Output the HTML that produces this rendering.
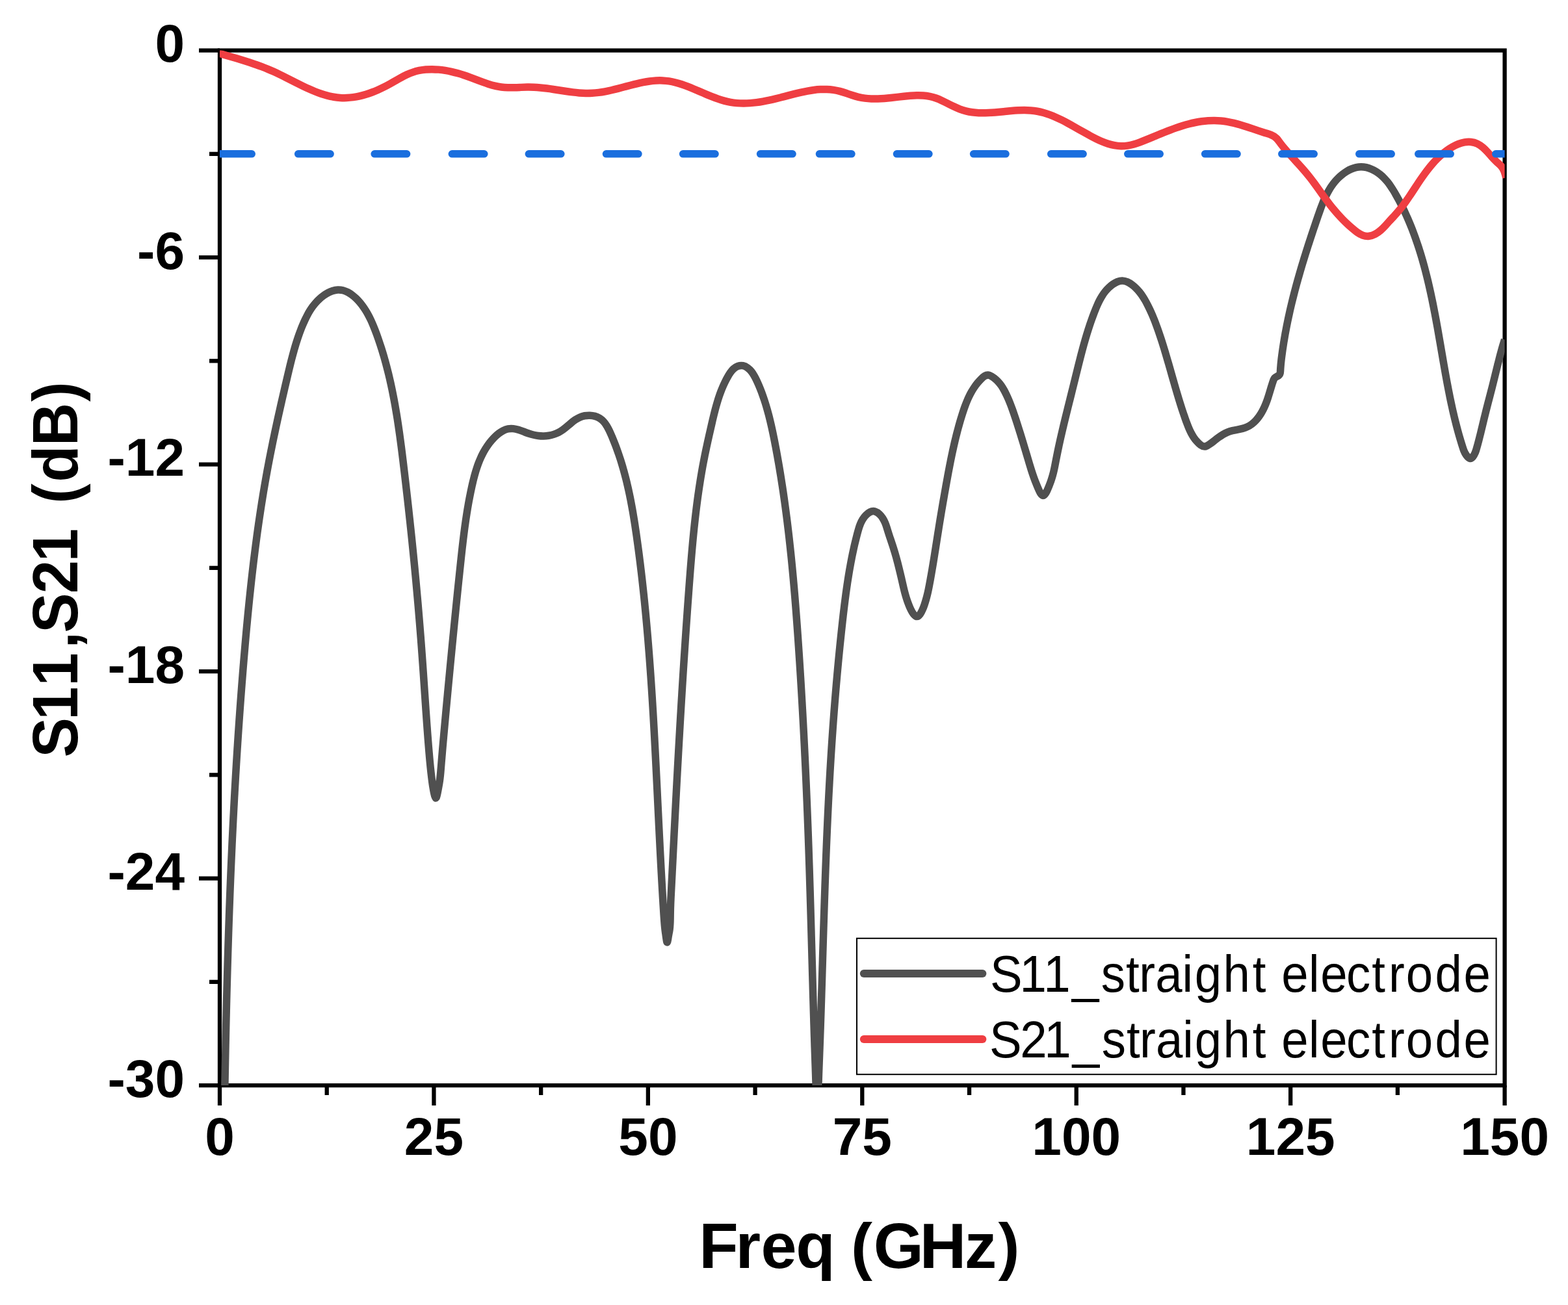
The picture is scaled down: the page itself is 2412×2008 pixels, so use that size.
<!DOCTYPE html>
<html><head><meta charset="utf-8"><title>S11 S21 straight electrode</title>
<style>
html,body{margin:0;padding:0;background:#fff;}
body{width:2412px;height:2008px;overflow:hidden;}
svg{display:block;}
.tl{font-family:"Liberation Sans",Arial,sans-serif;font-weight:bold;font-size:82px;fill:#000;}
.ti{font-family:"Liberation Sans",Arial,sans-serif;font-weight:bold;font-size:99.0px;fill:#000;font-kerning:none;}
.lg{font-family:"Liberation Sans",Arial,sans-serif;font-size:80.0px;fill:#000;font-kerning:none;}
</style></head>
<body>
<svg width="2412" height="2008" viewBox="0 0 2412 2008">
<rect width="2412" height="2008" fill="#fff"/>
<defs><clipPath id="pc"><rect x="338.0" y="77.6" width="1976.6" height="1592.5"/></clipPath></defs>
<g stroke="#000" stroke-width="6.3" fill="none" stroke-linecap="square">
<rect x="338.0" y="77.6" width="1976.6" height="1592.5" stroke-linejoin="miter"/>
</g>
<g stroke="#000" stroke-width="6.3" fill="none">
<line x1="306.0" y1="77.60" x2="338.0" y2="77.60"/><line x1="322.0" y1="236.85" x2="338.0" y2="236.85"/><line x1="306.0" y1="396.10" x2="338.0" y2="396.10"/><line x1="322.0" y1="555.35" x2="338.0" y2="555.35"/><line x1="306.0" y1="714.60" x2="338.0" y2="714.60"/><line x1="322.0" y1="873.85" x2="338.0" y2="873.85"/><line x1="306.0" y1="1033.10" x2="338.0" y2="1033.10"/><line x1="322.0" y1="1192.35" x2="338.0" y2="1192.35"/><line x1="306.0" y1="1351.60" x2="338.0" y2="1351.60"/><line x1="322.0" y1="1510.85" x2="338.0" y2="1510.85"/><line x1="306.0" y1="1670.10" x2="338.0" y2="1670.10"/><line x1="338.00" y1="1670.1" x2="338.00" y2="1701.0"/><line x1="502.72" y1="1670.1" x2="502.72" y2="1685.0"/><line x1="667.43" y1="1670.1" x2="667.43" y2="1701.0"/><line x1="832.15" y1="1670.1" x2="832.15" y2="1685.0"/><line x1="996.87" y1="1670.1" x2="996.87" y2="1701.0"/><line x1="1161.58" y1="1670.1" x2="1161.58" y2="1685.0"/><line x1="1326.30" y1="1670.1" x2="1326.30" y2="1701.0"/><line x1="1491.02" y1="1670.1" x2="1491.02" y2="1685.0"/><line x1="1655.73" y1="1670.1" x2="1655.73" y2="1701.0"/><line x1="1820.45" y1="1670.1" x2="1820.45" y2="1685.0"/><line x1="1985.17" y1="1670.1" x2="1985.17" y2="1701.0"/><line x1="2149.88" y1="1670.1" x2="2149.88" y2="1685.0"/><line x1="2314.60" y1="1670.1" x2="2314.60" y2="1701.0"/>
</g>
<g clip-path="url(#pc)" fill="none" stroke-linejoin="round">
<path d="M345.42 1699.99C345.46 1697.32 345.50 1694.65 345.55 1691.98C345.59 1689.31 345.63 1686.64 345.67 1683.97C345.72 1681.30 345.76 1678.63 345.81 1675.96C345.85 1673.29 345.90 1670.62 345.94 1667.95C345.99 1665.28 346.04 1662.61 346.08 1659.94C346.13 1657.27 346.18 1654.60 346.22 1651.93C346.27 1649.26 346.32 1646.59 346.37 1643.92C346.42 1641.25 346.47 1638.58 346.52 1635.91C346.57 1633.24 346.62 1630.57 346.67 1627.90C346.72 1625.23 346.77 1622.56 346.83 1619.89C346.88 1617.22 346.93 1614.54 346.99 1611.87C347.04 1609.20 347.10 1606.53 347.15 1603.86C347.21 1601.19 347.26 1598.52 347.32 1595.85C347.37 1593.18 347.43 1590.51 347.49 1587.84C347.55 1585.17 347.61 1582.50 347.66 1579.83C347.72 1577.16 347.78 1574.49 347.84 1571.82C347.90 1569.15 347.97 1566.48 348.03 1563.81C348.09 1561.14 348.15 1558.47 348.22 1555.80C348.28 1553.13 348.34 1550.46 348.41 1547.79C348.47 1545.12 348.54 1542.45 348.60 1539.78C348.67 1537.11 348.74 1534.44 348.81 1531.77C348.87 1529.10 348.94 1526.43 349.01 1523.76C349.08 1521.10 349.15 1518.43 349.22 1515.76C349.29 1513.09 349.36 1510.42 349.44 1507.75C349.51 1505.08 349.58 1502.41 349.66 1499.74C349.73 1497.07 349.81 1494.40 349.88 1491.73C349.96 1489.06 350.03 1486.39 350.11 1483.72C350.19 1481.05 350.27 1478.38 350.35 1475.71C350.42 1473.04 350.50 1470.37 350.59 1467.70C350.67 1465.03 350.75 1462.36 350.83 1459.69C350.91 1457.02 351.00 1454.36 351.08 1451.69C351.17 1449.02 351.25 1446.35 351.34 1443.68C351.42 1441.01 351.51 1438.34 351.60 1435.67C351.69 1433.00 351.78 1430.33 351.87 1427.66C351.95 1424.99 352.05 1422.32 352.14 1419.65C352.23 1416.99 352.32 1414.32 352.42 1411.65C352.51 1408.98 352.60 1406.31 352.70 1403.64C352.80 1400.97 352.89 1398.30 352.99 1395.63C353.09 1392.96 353.19 1390.30 353.29 1387.63C353.38 1384.96 353.49 1382.29 353.59 1379.62C353.69 1376.95 353.79 1374.28 353.89 1371.61C354.00 1368.95 354.10 1366.28 354.21 1363.61C354.31 1360.94 354.42 1358.27 354.53 1355.60C354.64 1352.93 354.75 1350.27 354.86 1347.60C354.97 1344.93 355.08 1342.26 355.19 1339.59C355.30 1336.92 355.41 1334.26 355.53 1331.59C355.64 1328.92 355.76 1326.25 355.88 1323.58C355.99 1320.91 356.11 1318.25 356.23 1315.58C356.35 1312.91 356.47 1310.24 356.59 1307.57C356.71 1304.91 356.83 1302.24 356.95 1299.57C357.08 1296.90 357.20 1294.23 357.33 1291.57C357.45 1288.90 357.58 1286.23 357.71 1283.56C357.84 1280.90 357.97 1278.23 358.10 1275.56C358.23 1272.89 358.36 1270.23 358.49 1267.56C358.62 1264.89 358.76 1262.22 358.89 1259.56C359.03 1256.89 359.16 1254.22 359.30 1251.56C359.44 1248.89 359.58 1246.22 359.72 1243.55C359.86 1240.89 360.00 1238.22 360.14 1235.55C360.29 1232.89 360.43 1230.22 360.57 1227.55C360.72 1224.89 360.87 1222.22 361.01 1219.55C361.16 1216.89 361.31 1214.22 361.46 1211.55C361.61 1208.89 361.76 1206.22 361.92 1203.55C362.07 1200.89 362.22 1198.22 362.38 1195.55C362.53 1192.89 362.69 1190.22 362.85 1187.56C363.01 1184.89 363.17 1182.22 363.33 1179.56C363.49 1176.89 363.65 1174.23 363.82 1171.56C363.98 1168.90 364.14 1166.23 364.31 1163.56C364.48 1160.90 364.64 1158.23 364.81 1155.57C364.98 1152.90 365.15 1150.24 365.33 1147.57C365.50 1144.91 365.67 1142.24 365.85 1139.58C366.02 1136.91 366.20 1134.25 366.37 1131.58C366.55 1128.92 366.73 1126.25 366.91 1123.59C367.09 1120.92 367.27 1118.26 367.46 1115.60C367.64 1112.93 367.83 1110.27 368.01 1107.60C368.20 1104.94 368.39 1102.27 368.58 1099.61C368.77 1096.95 368.96 1094.28 369.15 1091.62C369.34 1088.95 369.54 1086.29 369.73 1083.63C369.93 1080.96 370.12 1078.30 370.32 1075.64C370.52 1072.97 370.72 1070.31 370.92 1067.65C371.12 1064.98 371.33 1062.32 371.53 1059.66C371.74 1057.00 371.94 1054.33 372.15 1051.67C372.36 1049.01 372.57 1046.35 372.78 1043.68C372.99 1041.02 373.20 1038.36 373.41 1035.70C373.63 1033.03 373.84 1030.37 374.06 1027.71C374.28 1025.05 374.50 1022.39 374.72 1019.73C374.94 1017.06 375.16 1014.40 375.38 1011.74C375.61 1009.08 375.83 1006.42 376.06 1003.76C376.29 1001.10 376.52 998.44 376.75 995.77C376.98 993.11 377.21 990.45 377.44 987.79C377.68 985.13 377.91 982.47 378.15 979.81C378.39 977.15 378.63 974.49 378.87 971.83C379.11 969.17 379.36 966.51 379.60 963.85C379.85 961.19 380.10 958.54 380.35 955.88C380.60 953.22 380.86 950.56 381.11 947.90C381.37 945.24 381.63 942.58 381.89 939.93C382.15 937.27 382.41 934.61 382.68 931.95C382.94 929.30 383.21 926.64 383.48 923.98C383.75 921.32 384.03 918.67 384.31 916.01C384.58 913.36 384.86 910.70 385.15 908.04C385.43 905.39 385.72 902.73 386.01 900.08C386.29 897.42 386.59 894.77 386.88 892.11C387.18 889.46 387.48 886.81 387.78 884.15C388.08 881.50 388.39 878.85 388.70 876.19C389.01 873.54 389.32 870.89 389.63 868.24C389.95 865.58 390.27 862.93 390.59 860.28C390.92 857.63 391.24 854.98 391.57 852.33C391.90 849.68 392.24 847.03 392.58 844.38C392.92 841.73 393.26 839.08 393.60 836.43C393.95 833.79 394.30 831.14 394.66 828.49C395.01 825.84 395.37 823.20 395.73 820.55C396.09 817.91 396.46 815.26 396.83 812.62C397.20 809.97 397.58 807.33 397.96 804.68C398.34 802.04 398.73 799.40 399.11 796.76C399.50 794.11 399.90 791.47 400.30 788.83C400.69 786.19 401.10 783.55 401.51 780.91C401.91 778.27 402.33 775.63 402.74 772.99C403.16 770.36 403.58 767.72 404.01 765.08C404.44 762.45 404.87 759.81 405.31 757.18C405.75 754.54 406.19 751.91 406.64 749.28C407.08 746.64 407.54 744.01 408.00 741.38C408.45 738.75 408.92 736.12 409.39 733.49C409.86 730.86 410.33 728.23 410.81 725.61C411.29 722.98 411.78 720.35 412.27 717.73C412.76 715.10 413.26 712.48 413.76 709.85C414.26 707.23 414.77 704.61 415.28 701.99C415.79 699.37 416.31 696.75 416.83 694.13C417.36 691.51 417.88 688.89 418.42 686.27C418.95 683.66 419.48 681.04 420.02 678.42C420.56 675.81 421.11 673.19 421.66 670.58C422.21 667.97 422.76 665.35 423.32 662.74C423.87 660.13 424.43 657.52 425.00 654.91C425.56 652.30 426.13 649.69 426.70 647.08C427.27 644.47 427.85 641.86 428.42 639.25C429.00 636.65 429.58 634.04 430.17 631.43C430.75 628.83 431.34 626.22 431.92 623.62C432.51 621.01 433.10 618.41 433.70 615.80C434.29 613.20 434.89 610.60 435.49 607.99C436.08 605.39 436.68 602.79 437.29 600.19C437.89 597.59 438.49 594.98 439.10 592.38C439.71 589.78 440.31 587.18 440.92 584.58C441.53 581.98 442.14 579.38 442.75 576.78C443.36 574.18 443.98 571.58 444.60 568.98C445.22 566.39 445.85 563.79 446.49 561.20C447.12 558.60 447.77 556.01 448.43 553.43C449.10 550.84 449.77 548.25 450.46 545.68C451.16 543.09 451.87 540.52 452.60 537.95C453.33 535.38 454.09 532.82 454.86 530.27C455.64 527.71 456.45 525.16 457.28 522.63C458.11 520.09 458.97 517.56 459.87 515.05C460.76 512.53 461.69 510.02 462.65 507.53C463.61 505.04 464.61 502.56 465.65 500.10C466.69 497.64 467.76 495.20 468.88 492.77C470.00 490.35 471.17 487.95 472.41 485.58C473.64 483.22 474.95 480.89 476.34 478.60C477.72 476.33 479.20 474.10 480.78 471.93C482.34 469.80 484.01 467.71 485.80 465.69C487.55 463.73 489.42 461.82 491.42 459.99C493.38 458.20 495.46 456.50 497.63 454.93C499.81 453.35 502.08 451.90 504.40 450.66C506.81 449.37 509.27 448.29 511.75 447.49C514.36 446.65 516.99 446.11 519.59 445.96C522.28 445.80 524.94 446.08 527.53 446.74C530.08 447.39 532.56 448.39 534.98 449.66C537.29 450.88 539.54 452.35 541.70 453.99C543.81 455.59 545.83 457.36 547.76 459.23C549.69 461.10 551.52 463.06 553.25 465.07C555.00 467.10 556.65 469.20 558.21 471.35C559.79 473.52 561.27 475.74 562.68 478.00C564.09 480.27 565.42 482.59 566.68 484.94C567.95 487.29 569.14 489.68 570.28 492.10C571.42 494.51 572.50 496.95 573.55 499.41C574.58 501.87 575.58 504.35 576.54 506.84C577.51 509.33 578.44 511.84 579.36 514.34C580.27 516.86 581.17 519.37 582.04 521.89C582.92 524.42 583.77 526.95 584.61 529.48C585.45 532.02 586.27 534.56 587.07 537.11C587.87 539.66 588.65 542.21 589.41 544.77C590.18 547.33 590.92 549.89 591.65 552.46C592.38 555.03 593.09 557.61 593.79 560.18C594.48 562.76 595.16 565.35 595.82 567.93C596.48 570.52 597.12 573.11 597.75 575.71C598.38 578.30 598.99 580.90 599.59 583.51C600.19 586.11 600.77 588.72 601.34 591.33C601.91 593.93 602.47 596.55 603.01 599.16C603.55 601.78 604.08 604.39 604.60 607.02C605.11 609.64 605.62 612.26 606.11 614.88C606.60 617.51 607.08 620.14 607.55 622.77C608.02 625.39 608.48 628.02 608.92 630.66C609.37 633.29 609.81 635.93 610.24 638.56C610.67 641.20 611.09 643.84 611.50 646.47C611.91 649.11 612.31 651.75 612.70 654.40C613.09 657.04 613.48 659.68 613.86 662.32C614.24 664.97 614.61 667.61 614.97 670.26C615.34 672.90 615.70 675.55 616.05 678.20C616.41 680.84 616.75 683.49 617.10 686.14C617.44 688.79 617.78 691.44 618.11 694.09C618.45 696.74 618.78 699.39 619.10 702.04C619.43 704.69 619.75 707.34 620.08 709.99C620.40 712.64 620.72 715.29 621.03 717.95C621.35 720.60 621.67 723.25 621.98 725.90C622.30 728.55 622.61 731.21 622.92 733.86C623.23 736.51 623.54 739.16 623.85 741.82C624.16 744.47 624.47 747.12 624.77 749.78C625.08 752.43 625.38 755.08 625.68 757.74C625.99 760.39 626.29 763.04 626.59 765.70C626.89 768.35 627.18 771.01 627.48 773.66C627.78 776.31 628.07 778.97 628.37 781.62C628.66 784.28 628.95 786.93 629.24 789.59C629.53 792.24 629.82 794.90 630.11 797.55C630.40 800.21 630.68 802.86 630.96 805.52C631.25 808.17 631.53 810.83 631.81 813.48C632.09 816.14 632.37 818.80 632.65 821.45C632.93 824.11 633.20 826.77 633.48 829.42C633.75 832.08 634.02 834.74 634.29 837.39C634.57 840.05 634.84 842.71 635.10 845.36C635.37 848.02 635.64 850.68 635.90 853.34C636.17 855.99 636.43 858.65 636.69 861.31C636.95 863.97 637.21 866.63 637.47 869.28C637.72 871.94 637.98 874.60 638.23 877.26C638.49 879.92 638.74 882.58 638.99 885.24C639.24 887.89 639.49 890.55 639.74 893.21C639.98 895.87 640.23 898.53 640.47 901.19C640.72 903.85 640.96 906.51 641.20 909.17C641.44 911.83 641.68 914.49 641.91 917.15C642.15 919.81 642.38 922.47 642.62 925.13C642.85 927.79 643.08 930.45 643.31 933.11C643.54 935.77 643.77 938.44 643.99 941.10C644.22 943.76 644.44 946.42 644.66 949.08C644.89 951.74 645.11 954.40 645.32 957.07C645.54 959.73 645.76 962.39 645.97 965.05C646.19 967.71 646.40 970.38 646.61 973.04C646.82 975.70 647.03 978.36 647.24 981.03C647.44 983.69 647.65 986.35 647.85 989.01C648.05 991.68 648.25 994.34 648.45 997.00C648.65 999.67 648.85 1002.33 649.04 1004.99C649.24 1007.66 649.43 1010.32 649.62 1012.98C649.81 1015.65 650.00 1018.31 650.19 1020.98C650.38 1023.64 650.57 1026.30 650.75 1028.97C650.94 1031.63 651.12 1034.30 651.31 1036.96C651.49 1039.63 651.67 1042.29 651.85 1044.96C652.04 1047.62 652.22 1050.28 652.40 1052.95C652.58 1055.61 652.76 1058.28 652.94 1060.94C653.12 1063.61 653.30 1066.27 653.49 1068.94C653.67 1071.60 653.85 1074.26 654.03 1076.93C654.21 1079.59 654.40 1082.26 654.58 1084.92C654.76 1087.59 654.95 1090.25 655.13 1092.92C655.32 1095.58 655.50 1098.24 655.69 1100.91C655.88 1103.57 656.07 1106.24 656.26 1108.90C656.45 1111.56 656.64 1114.23 656.84 1116.89C657.03 1119.55 657.23 1122.22 657.43 1124.88C657.63 1127.54 657.83 1130.21 658.03 1132.87C658.24 1135.53 658.44 1138.19 658.65 1140.86C658.86 1143.52 659.07 1146.18 659.29 1148.85C659.50 1151.51 659.72 1154.17 659.95 1156.83C660.17 1159.50 660.40 1162.16 660.64 1164.81C660.87 1167.49 661.12 1170.15 661.37 1172.79C661.62 1175.47 661.88 1178.13 662.15 1180.77C662.43 1183.45 662.71 1186.11 663.00 1188.73C663.30 1191.42 663.61 1194.07 663.93 1196.69C664.26 1199.35 664.58 1201.92 664.97 1204.64C665.31 1207.06 665.70 1209.63 666.20 1212.55C666.60 1214.93 667.09 1217.67 667.65 1220.43C668.39 1224.13 669.26 1227.54 670.12 1227.95C671.07 1228.39 672.02 1224.79 672.85 1220.77C673.42 1218.00 673.93 1215.24 674.37 1212.90C674.93 1209.94 675.39 1207.42 675.79 1205.01C676.23 1202.37 676.59 1199.82 676.91 1197.08C677.21 1194.51 677.48 1191.84 677.73 1189.11C677.97 1186.49 678.19 1183.81 678.40 1181.13C678.62 1178.47 678.83 1175.80 679.05 1173.14C679.26 1170.47 679.48 1167.81 679.70 1165.16C679.93 1162.49 680.15 1159.83 680.38 1157.17C680.60 1154.51 680.83 1151.85 681.06 1149.19C681.30 1146.53 681.53 1143.87 681.76 1141.21C682.00 1138.55 682.24 1135.89 682.48 1133.23C682.71 1130.57 682.95 1127.91 683.19 1125.25C683.44 1122.59 683.68 1119.93 683.92 1117.27C684.16 1114.61 684.41 1111.95 684.65 1109.29C684.89 1106.63 685.14 1103.97 685.38 1101.31C685.63 1098.65 685.87 1095.99 686.12 1093.33C686.37 1090.68 686.61 1088.02 686.86 1085.36C687.11 1082.70 687.35 1080.04 687.60 1077.38C687.85 1074.72 688.10 1072.06 688.35 1069.40C688.59 1066.74 688.84 1064.08 689.09 1061.42C689.34 1058.77 689.59 1056.11 689.84 1053.45C690.10 1050.79 690.35 1048.13 690.60 1045.47C690.85 1042.81 691.10 1040.15 691.36 1037.49C691.61 1034.84 691.86 1032.18 692.12 1029.52C692.37 1026.86 692.62 1024.20 692.88 1021.54C693.14 1018.88 693.39 1016.23 693.65 1013.57C693.90 1010.91 694.16 1008.25 694.42 1005.59C694.68 1002.93 694.93 1000.28 695.19 997.62C695.45 994.96 695.71 992.30 695.97 989.64C696.23 986.99 696.49 984.33 696.75 981.67C697.01 979.01 697.27 976.35 697.54 973.70C697.80 971.04 698.06 968.38 698.33 965.72C698.59 963.06 698.85 960.41 699.12 957.75C699.38 955.09 699.65 952.43 699.92 949.78C700.18 947.12 700.45 944.46 700.72 941.81C700.98 939.15 701.25 936.49 701.52 933.83C701.79 931.18 702.06 928.52 702.33 925.86C702.60 923.21 702.87 920.55 703.15 917.89C703.42 915.24 703.69 912.58 703.96 909.92C704.24 907.26 704.51 904.61 704.79 901.95C705.06 899.30 705.34 896.64 705.61 893.98C705.89 891.33 706.17 888.67 706.45 886.01C706.72 883.36 707.00 880.70 707.28 878.05C707.56 875.39 707.84 872.73 708.12 870.08C708.40 867.42 708.69 864.77 708.97 862.11C709.25 859.45 709.54 856.80 709.83 854.14C710.12 851.49 710.41 848.83 710.71 846.18C711.00 843.53 711.30 840.87 711.61 838.22C711.92 835.57 712.23 832.91 712.55 830.26C712.87 827.61 713.19 824.96 713.53 822.31C713.86 819.66 714.20 817.01 714.55 814.36C714.90 811.72 715.26 809.07 715.63 806.43C716.00 803.78 716.38 801.14 716.77 798.49C717.16 795.85 717.56 793.21 717.98 790.57C718.39 787.94 718.82 785.30 719.26 782.67C719.70 780.03 720.15 777.40 720.62 774.77C721.09 772.14 721.58 769.52 722.08 766.89C722.57 764.27 723.09 761.65 723.62 759.03C724.15 756.41 724.70 753.80 725.27 751.19C725.83 748.58 726.42 745.97 727.02 743.37C727.63 740.77 728.26 738.17 728.93 735.59C729.59 733.00 730.29 730.42 731.03 727.86C731.77 725.29 732.55 722.73 733.39 720.20C734.23 717.66 735.11 715.14 736.06 712.65C737.01 710.15 738.03 707.68 739.11 705.24C740.19 702.79 741.34 700.39 742.57 698.02C743.80 695.65 745.11 693.32 746.50 691.04C747.89 688.76 749.36 686.54 750.93 684.36C752.48 682.21 754.13 680.11 755.88 678.06C757.59 676.05 759.41 674.08 761.33 672.19C763.24 670.31 765.25 668.52 767.34 666.91C769.50 665.24 771.75 663.77 774.07 662.58C776.50 661.33 779.01 660.39 781.59 659.88C784.19 659.36 786.85 659.31 789.56 659.64C792.13 659.95 794.74 660.57 797.38 661.36C799.88 662.12 802.41 663.03 804.95 663.97C807.45 664.89 809.96 665.85 812.48 666.72C815.04 667.60 817.60 668.38 820.15 669.00C822.79 669.64 825.42 670.12 828.03 670.44C830.72 670.77 833.39 670.92 836.02 670.90C838.72 670.87 841.38 670.66 844.00 670.25C846.65 669.83 849.25 669.22 851.79 668.40C854.32 667.59 856.79 666.58 859.19 665.35C861.53 664.16 863.81 662.76 866.01 661.17C868.14 659.63 870.22 657.93 872.28 656.18C874.31 654.47 876.33 652.70 878.38 650.99C880.45 649.27 882.55 647.61 884.73 646.10C886.95 644.58 889.25 643.22 891.68 642.14C894.11 641.06 896.68 640.27 899.32 639.77C901.95 639.28 904.64 639.09 907.29 639.18C910.00 639.28 912.66 639.68 915.19 640.39C917.82 641.12 920.30 642.18 922.51 643.57C924.78 645.00 926.78 646.76 928.58 648.76C930.33 650.71 931.88 652.89 933.30 655.22C934.67 657.46 935.92 659.84 937.09 662.28C938.24 664.68 939.32 667.13 940.38 669.58C941.45 672.04 942.48 674.50 943.49 676.97C944.50 679.45 945.48 681.93 946.44 684.42C947.40 686.92 948.33 689.42 949.24 691.93C950.15 694.44 951.03 696.96 951.89 699.49C952.75 702.02 953.58 704.55 954.40 707.09C955.21 709.64 956.00 712.19 956.77 714.75C957.54 717.31 958.29 719.87 959.01 722.44C959.74 725.01 960.44 727.59 961.13 730.17C961.81 732.75 962.48 735.34 963.12 737.93C963.77 740.52 964.40 743.12 965.00 745.71C965.61 748.32 966.21 750.92 966.78 753.53C967.36 756.14 967.92 758.75 968.46 761.36C969.00 763.98 969.53 766.59 970.04 769.22C970.56 771.84 971.06 774.46 971.54 777.09C972.03 779.71 972.50 782.34 972.97 784.97C973.43 787.60 973.88 790.23 974.32 792.87C974.76 795.50 975.19 798.14 975.61 800.78C976.03 803.41 976.44 806.05 976.84 808.69C977.25 811.33 977.64 813.97 978.03 816.62C978.42 819.26 978.80 821.90 979.18 824.55C979.55 827.19 979.92 829.83 980.29 832.48C980.66 835.12 981.02 837.77 981.38 840.42C981.73 843.06 982.09 845.71 982.43 848.36C982.78 851.01 983.13 853.66 983.46 856.31C983.80 858.95 984.14 861.60 984.47 864.25C984.80 866.90 985.12 869.55 985.45 872.21C985.77 874.86 986.09 877.51 986.40 880.16C986.71 882.81 987.02 885.47 987.33 888.12C987.63 890.77 987.93 893.43 988.23 896.08C988.53 898.73 988.82 901.39 989.11 904.04C989.40 906.70 989.68 909.35 989.97 912.01C990.25 914.67 990.53 917.32 990.80 919.98C991.07 922.64 991.35 925.29 991.61 927.95C991.88 930.61 992.14 933.26 992.40 935.92C992.66 938.58 992.92 941.24 993.17 943.90C993.43 946.56 993.67 949.22 993.92 951.88C994.17 954.53 994.41 957.19 994.65 959.85C994.89 962.51 995.13 965.17 995.36 967.83C995.59 970.50 995.82 973.16 996.05 975.82C996.28 978.48 996.50 981.14 996.73 983.80C996.95 986.46 997.17 989.12 997.38 991.79C997.60 994.45 997.81 997.11 998.02 999.77C998.23 1002.43 998.44 1005.10 998.64 1007.76C998.85 1010.42 999.05 1013.09 999.25 1015.75C999.45 1018.41 999.65 1021.08 999.84 1023.74C1000.04 1026.40 1000.23 1029.07 1000.42 1031.73C1000.61 1034.40 1000.80 1037.06 1000.98 1039.72C1001.17 1042.39 1001.35 1045.05 1001.53 1047.72C1001.71 1050.38 1001.89 1053.05 1002.06 1055.71C1002.24 1058.38 1002.42 1061.04 1002.59 1063.71C1002.76 1066.37 1002.93 1069.04 1003.10 1071.70C1003.27 1074.37 1003.43 1077.03 1003.60 1079.70C1003.76 1082.36 1003.93 1085.03 1004.09 1087.70C1004.25 1090.36 1004.41 1093.03 1004.57 1095.69C1004.73 1098.36 1004.88 1101.03 1005.04 1103.69C1005.19 1106.36 1005.34 1109.02 1005.50 1111.69C1005.65 1114.36 1005.80 1117.02 1005.95 1119.69C1006.10 1122.36 1006.24 1125.02 1006.39 1127.69C1006.54 1130.36 1006.68 1133.02 1006.83 1135.69C1006.97 1138.36 1007.11 1141.02 1007.25 1143.69C1007.40 1146.36 1007.54 1149.02 1007.68 1151.69C1007.82 1154.36 1007.95 1157.03 1008.09 1159.69C1008.23 1162.36 1008.37 1165.03 1008.50 1167.69C1008.64 1170.36 1008.77 1173.03 1008.91 1175.70C1009.04 1178.36 1009.18 1181.03 1009.31 1183.70C1009.44 1186.37 1009.58 1189.03 1009.71 1191.70C1009.84 1194.37 1009.97 1197.04 1010.10 1199.70C1010.24 1202.37 1010.37 1205.04 1010.50 1207.71C1010.63 1210.37 1010.76 1213.04 1010.89 1215.71C1011.02 1218.38 1011.15 1221.04 1011.28 1223.71C1011.41 1226.38 1011.54 1229.05 1011.66 1231.71C1011.79 1234.38 1011.92 1237.05 1012.05 1239.72C1012.18 1242.38 1012.31 1245.05 1012.44 1247.72C1012.57 1250.39 1012.70 1253.05 1012.83 1255.72C1012.96 1258.39 1013.09 1261.06 1013.22 1263.72C1013.35 1266.39 1013.48 1269.06 1013.61 1271.73C1013.74 1274.39 1013.88 1277.06 1014.01 1279.73C1014.14 1282.40 1014.27 1285.06 1014.41 1287.73C1014.54 1290.40 1014.67 1293.07 1014.81 1295.73C1014.94 1298.40 1015.08 1301.07 1015.21 1303.73C1015.35 1306.40 1015.48 1309.07 1015.62 1311.74C1015.76 1314.40 1015.90 1317.07 1016.04 1319.74C1016.18 1322.40 1016.32 1325.07 1016.46 1327.74C1016.60 1330.41 1016.74 1333.07 1016.89 1335.74C1017.03 1338.41 1017.17 1341.07 1017.32 1343.74C1017.47 1346.41 1017.61 1349.07 1017.76 1351.74C1017.91 1354.41 1018.06 1357.07 1018.21 1359.74C1018.36 1362.41 1018.52 1365.07 1018.67 1367.74C1018.83 1370.40 1018.98 1373.07 1019.14 1375.74C1019.30 1378.40 1019.45 1381.07 1019.62 1383.73C1019.78 1386.40 1019.94 1389.07 1020.10 1391.73C1020.27 1394.40 1020.43 1397.06 1020.60 1399.73C1020.77 1402.39 1020.94 1405.06 1021.11 1407.72C1021.28 1410.40 1021.46 1413.07 1021.66 1415.72C1021.86 1418.41 1022.08 1421.08 1022.32 1423.70C1022.57 1426.42 1022.86 1429.08 1023.18 1431.67C1023.49 1434.19 1023.84 1436.57 1024.27 1439.60C1024.61 1441.91 1025.00 1445.02 1025.43 1447.54C1026.10 1451.46 1026.77 1450.15 1027.40 1445.81C1027.83 1442.83 1028.28 1440.06 1028.71 1437.91C1029.27 1435.07 1029.77 1432.72 1030.11 1430.02C1030.43 1427.48 1030.65 1424.80 1030.79 1422.04C1030.93 1419.43 1031.01 1416.75 1031.07 1414.03C1031.12 1411.38 1031.15 1408.69 1031.20 1406.02C1031.24 1403.33 1031.30 1400.66 1031.37 1398.01C1031.45 1395.32 1031.54 1392.66 1031.65 1390.01C1031.76 1387.32 1031.87 1384.66 1032.00 1382.00C1032.13 1379.33 1032.26 1376.66 1032.40 1374.00C1032.53 1371.33 1032.67 1368.67 1032.81 1366.00C1032.94 1363.33 1033.08 1360.66 1033.22 1358.00C1033.35 1355.33 1033.49 1352.66 1033.63 1349.99C1033.76 1347.33 1033.90 1344.66 1034.03 1341.99C1034.17 1339.33 1034.31 1336.66 1034.44 1333.99C1034.58 1331.32 1034.71 1328.66 1034.85 1325.99C1034.98 1323.32 1035.12 1320.65 1035.25 1317.99C1035.39 1315.32 1035.52 1312.65 1035.66 1309.98C1035.79 1307.32 1035.93 1304.65 1036.06 1301.98C1036.20 1299.32 1036.33 1296.65 1036.47 1293.98C1036.60 1291.31 1036.74 1288.65 1036.87 1285.98C1037.01 1283.31 1037.14 1280.65 1037.28 1277.98C1037.42 1275.31 1037.55 1272.64 1037.69 1269.98C1037.83 1267.31 1037.96 1264.64 1038.10 1261.97C1038.24 1259.31 1038.37 1256.64 1038.51 1253.97C1038.65 1251.31 1038.78 1248.64 1038.92 1245.97C1039.06 1243.30 1039.20 1240.64 1039.34 1237.97C1039.48 1235.30 1039.62 1232.64 1039.76 1229.97C1039.90 1227.30 1040.04 1224.63 1040.18 1221.97C1040.32 1219.30 1040.46 1216.63 1040.60 1213.97C1040.74 1211.30 1040.88 1208.63 1041.03 1205.97C1041.17 1203.30 1041.31 1200.63 1041.45 1197.97C1041.60 1195.30 1041.74 1192.63 1041.89 1189.96C1042.03 1187.30 1042.18 1184.63 1042.32 1181.96C1042.47 1179.30 1042.61 1176.63 1042.76 1173.96C1042.91 1171.30 1043.05 1168.63 1043.20 1165.96C1043.35 1163.30 1043.50 1160.63 1043.64 1157.96C1043.79 1155.30 1043.94 1152.63 1044.09 1149.97C1044.24 1147.30 1044.39 1144.63 1044.54 1141.97C1044.69 1139.30 1044.85 1136.63 1045.00 1133.97C1045.15 1131.30 1045.30 1128.63 1045.46 1125.97C1045.61 1123.30 1045.76 1120.63 1045.92 1117.97C1046.07 1115.30 1046.23 1112.64 1046.38 1109.97C1046.54 1107.30 1046.69 1104.64 1046.85 1101.97C1047.01 1099.31 1047.17 1096.64 1047.33 1093.97C1047.48 1091.31 1047.64 1088.64 1047.80 1085.98C1047.96 1083.31 1048.12 1080.64 1048.28 1077.98C1048.44 1075.31 1048.61 1072.65 1048.77 1069.98C1048.93 1067.31 1049.09 1064.65 1049.26 1061.98C1049.42 1059.32 1049.59 1056.65 1049.75 1053.99C1049.92 1051.32 1050.08 1048.66 1050.25 1045.99C1050.42 1043.32 1050.59 1040.66 1050.75 1037.99C1050.92 1035.33 1051.09 1032.66 1051.26 1030.00C1051.43 1027.33 1051.60 1024.67 1051.77 1022.00C1051.94 1019.34 1052.12 1016.67 1052.29 1014.01C1052.46 1011.34 1052.64 1008.68 1052.81 1006.01C1052.99 1003.35 1053.16 1000.68 1053.34 998.02C1053.51 995.35 1053.69 992.69 1053.87 990.02C1054.05 987.36 1054.23 984.69 1054.40 982.03C1054.58 979.36 1054.76 976.70 1054.95 974.03C1055.13 971.37 1055.31 968.71 1055.49 966.04C1055.68 963.38 1055.86 960.71 1056.04 958.05C1056.23 955.38 1056.42 952.72 1056.60 950.06C1056.79 947.39 1056.98 944.73 1057.16 942.06C1057.35 939.40 1057.54 936.73 1057.73 934.07C1057.92 931.41 1058.11 928.74 1058.31 926.08C1058.50 923.42 1058.69 920.75 1058.89 918.09C1059.08 915.42 1059.27 912.76 1059.47 910.10C1059.67 907.43 1059.86 904.77 1060.06 902.11C1060.26 899.44 1060.46 896.78 1060.66 894.12C1060.86 891.45 1061.06 888.79 1061.27 886.13C1061.47 883.47 1061.68 880.80 1061.88 878.14C1062.09 875.48 1062.30 872.82 1062.52 870.15C1062.73 867.49 1062.95 864.83 1063.17 862.17C1063.39 859.51 1063.61 856.84 1063.84 854.18C1064.06 851.52 1064.29 848.86 1064.53 846.20C1064.76 843.54 1065.00 840.88 1065.24 838.22C1065.49 835.56 1065.73 832.90 1065.99 830.24C1066.24 827.58 1066.50 824.93 1066.76 822.27C1067.02 819.61 1067.29 816.95 1067.56 814.30C1067.84 811.64 1068.12 808.98 1068.40 806.33C1068.69 803.67 1068.98 801.02 1069.28 798.36C1069.58 795.71 1069.89 793.06 1070.20 790.41C1070.51 787.75 1070.83 785.10 1071.16 782.45C1071.49 779.80 1071.82 777.15 1072.16 774.50C1072.51 771.85 1072.86 769.21 1073.22 766.56C1073.58 763.91 1073.94 761.27 1074.32 758.62C1074.70 755.98 1075.08 753.34 1075.48 750.70C1075.87 748.05 1076.28 745.41 1076.69 742.78C1077.10 740.14 1077.53 737.50 1077.96 734.87C1078.39 732.23 1078.84 729.60 1079.29 726.96C1079.74 724.33 1080.21 721.70 1080.68 719.07C1081.16 716.45 1081.65 713.82 1082.14 711.20C1082.64 708.57 1083.15 705.95 1083.67 703.33C1084.19 700.71 1084.72 698.10 1085.26 695.48C1085.81 692.86 1086.36 690.25 1086.92 687.64C1087.48 685.03 1088.04 682.42 1088.62 679.81C1089.19 677.20 1089.77 674.60 1090.36 671.99C1090.94 669.38 1091.53 666.78 1092.12 664.17C1092.71 661.57 1093.31 658.97 1093.91 656.36C1094.50 653.76 1095.10 651.16 1095.70 648.56C1096.31 645.95 1096.92 643.35 1097.54 640.76C1098.17 638.16 1098.81 635.57 1099.47 632.98C1100.13 630.39 1100.81 627.81 1101.53 625.24C1102.24 622.66 1102.98 620.09 1103.75 617.54C1104.53 614.98 1105.34 612.44 1106.20 609.91C1107.06 607.38 1107.96 604.86 1108.91 602.37C1109.86 599.87 1110.85 597.40 1111.91 594.94C1112.97 592.49 1114.08 590.07 1115.26 587.66C1116.43 585.27 1117.66 582.90 1118.97 580.57C1120.27 578.24 1121.61 575.93 1123.11 573.71C1124.59 571.51 1126.24 569.42 1128.28 567.61C1130.26 565.85 1132.59 564.35 1135.05 563.42C1137.62 562.46 1140.32 562.16 1142.92 562.71C1145.47 563.25 1147.92 564.50 1150.12 566.10C1152.32 567.71 1154.21 569.62 1155.84 571.67C1157.50 573.77 1158.92 576.02 1160.26 578.35C1161.58 580.65 1162.79 583.04 1163.94 585.46C1165.08 587.87 1166.16 590.32 1167.20 592.78C1168.25 595.24 1169.25 597.72 1170.22 600.20C1171.20 602.69 1172.13 605.19 1173.03 607.70C1173.94 610.22 1174.80 612.74 1175.64 615.28C1176.48 617.82 1177.29 620.36 1178.06 622.91C1178.84 625.47 1179.59 628.03 1180.32 630.60C1181.04 633.17 1181.74 635.75 1182.42 638.34C1183.09 640.92 1183.74 643.51 1184.38 646.10C1185.01 648.70 1185.62 651.30 1186.21 653.90C1186.81 656.51 1187.39 659.11 1187.95 661.72C1188.51 664.33 1189.06 666.95 1189.60 669.57C1190.13 672.18 1190.66 674.80 1191.17 677.42C1191.69 680.04 1192.20 682.66 1192.70 685.29C1193.20 687.91 1193.69 690.53 1194.18 693.16C1194.67 695.78 1195.15 698.41 1195.63 701.04C1196.10 703.67 1196.57 706.30 1197.03 708.93C1197.49 711.56 1197.95 714.19 1198.40 716.82C1198.84 719.46 1199.29 722.09 1199.72 724.72C1200.16 727.36 1200.59 729.99 1201.02 732.63C1201.44 735.27 1201.86 737.91 1202.27 740.55C1202.68 743.18 1203.09 745.82 1203.49 748.46C1203.89 751.10 1204.29 753.75 1204.68 756.39C1205.07 759.03 1205.45 761.67 1205.83 764.32C1206.21 766.96 1206.58 769.60 1206.95 772.25C1207.32 774.89 1207.68 777.54 1208.04 780.19C1208.39 782.83 1208.75 785.48 1209.09 788.13C1209.44 790.78 1209.78 793.43 1210.12 796.08C1210.46 798.72 1210.79 801.37 1211.12 804.03C1211.45 806.68 1211.77 809.33 1212.09 811.98C1212.41 814.63 1212.72 817.28 1213.03 819.94C1213.34 822.59 1213.64 825.24 1213.95 827.89C1214.25 830.55 1214.54 833.20 1214.83 835.86C1215.13 838.51 1215.41 841.17 1215.70 843.82C1215.98 846.48 1216.26 849.13 1216.54 851.79C1216.81 854.45 1217.09 857.10 1217.36 859.76C1217.62 862.42 1217.89 865.08 1218.15 867.73C1218.41 870.39 1218.67 873.05 1218.92 875.71C1219.18 878.37 1219.43 881.03 1219.67 883.69C1219.92 886.34 1220.16 889.00 1220.40 891.66C1220.65 894.32 1220.88 896.98 1221.12 899.64C1221.35 902.31 1221.58 904.97 1221.81 907.63C1222.04 910.29 1222.26 912.95 1222.49 915.61C1222.71 918.27 1222.93 920.93 1223.15 923.60C1223.36 926.26 1223.58 928.92 1223.79 931.58C1224.00 934.24 1224.21 936.91 1224.42 939.57C1224.63 942.23 1224.83 944.89 1225.03 947.56C1225.23 950.22 1225.43 952.88 1225.63 955.55C1225.83 958.21 1226.03 960.87 1226.22 963.54C1226.41 966.20 1226.61 968.87 1226.80 971.53C1226.99 974.19 1227.18 976.86 1227.36 979.52C1227.55 982.19 1227.73 984.85 1227.92 987.51C1228.10 990.18 1228.28 992.84 1228.46 995.51C1228.64 998.17 1228.82 1000.84 1229.00 1003.50C1229.18 1006.17 1229.35 1008.83 1229.53 1011.50C1229.70 1014.16 1229.88 1016.83 1230.05 1019.49C1230.22 1022.16 1230.39 1024.82 1230.56 1027.49C1230.73 1030.15 1230.90 1032.82 1231.07 1035.48C1231.24 1038.15 1231.40 1040.81 1231.57 1043.48C1231.73 1046.15 1231.89 1048.81 1232.06 1051.48C1232.22 1054.14 1232.38 1056.81 1232.54 1059.47C1232.70 1062.14 1232.86 1064.81 1233.01 1067.47C1233.17 1070.14 1233.33 1072.80 1233.48 1075.47C1233.64 1078.14 1233.79 1080.80 1233.94 1083.47C1234.09 1086.14 1234.24 1088.80 1234.39 1091.47C1234.54 1094.14 1234.69 1096.80 1234.84 1099.47C1234.98 1102.14 1235.13 1104.80 1235.28 1107.47C1235.42 1110.14 1235.56 1112.80 1235.71 1115.47C1235.85 1118.14 1235.99 1120.80 1236.13 1123.47C1236.27 1126.14 1236.41 1128.80 1236.55 1131.47C1236.68 1134.14 1236.82 1136.81 1236.95 1139.47C1237.09 1142.14 1237.22 1144.81 1237.36 1147.48C1237.49 1150.14 1237.62 1152.81 1237.75 1155.48C1237.88 1158.14 1238.01 1160.81 1238.14 1163.48C1238.27 1166.15 1238.40 1168.82 1238.52 1171.48C1238.65 1174.15 1238.77 1176.82 1238.90 1179.49C1239.02 1182.15 1239.15 1184.82 1239.27 1187.49C1239.39 1190.16 1239.51 1192.83 1239.63 1195.49C1239.75 1198.16 1239.87 1200.83 1239.99 1203.50C1240.10 1206.17 1240.22 1208.83 1240.33 1211.50C1240.45 1214.17 1240.56 1216.84 1240.68 1219.51C1240.79 1222.18 1240.90 1224.84 1241.01 1227.51C1241.13 1230.18 1241.24 1232.85 1241.35 1235.52C1241.45 1238.19 1241.56 1240.85 1241.67 1243.52C1241.78 1246.19 1241.88 1248.86 1241.99 1251.53C1242.09 1254.20 1242.20 1256.87 1242.30 1259.54C1242.41 1262.20 1242.51 1264.87 1242.61 1267.54C1242.71 1270.21 1242.81 1272.88 1242.91 1275.55C1243.01 1278.22 1243.11 1280.88 1243.21 1283.55C1243.30 1286.22 1243.40 1288.89 1243.50 1291.56C1243.59 1294.23 1243.69 1296.90 1243.78 1299.57C1243.88 1302.24 1243.97 1304.91 1244.06 1307.58C1244.15 1310.24 1244.24 1312.91 1244.33 1315.58C1244.43 1318.25 1244.52 1320.92 1244.60 1323.59C1244.69 1326.26 1244.78 1328.93 1244.87 1331.60C1244.96 1334.27 1245.04 1336.94 1245.13 1339.61C1245.21 1342.28 1245.30 1344.94 1245.38 1347.61C1245.47 1350.28 1245.55 1352.95 1245.63 1355.62C1245.72 1358.29 1245.80 1360.96 1245.88 1363.63C1245.96 1366.30 1246.04 1368.97 1246.13 1371.64C1246.21 1374.31 1246.29 1376.98 1246.37 1379.65C1246.45 1382.32 1246.52 1384.99 1246.60 1387.66C1246.68 1390.33 1246.76 1393.00 1246.84 1395.66C1246.92 1398.33 1246.99 1401.00 1247.07 1403.67C1247.15 1406.34 1247.23 1409.01 1247.30 1411.68C1247.38 1414.35 1247.46 1417.02 1247.53 1419.69C1247.61 1422.36 1247.68 1425.03 1247.76 1427.70C1247.83 1430.37 1247.91 1433.04 1247.98 1435.71C1248.06 1438.38 1248.13 1441.05 1248.21 1443.72C1248.28 1446.39 1248.36 1449.06 1248.43 1451.73C1248.51 1454.40 1248.58 1457.07 1248.66 1459.74C1248.73 1462.41 1248.80 1465.08 1248.88 1467.74C1248.95 1470.42 1249.03 1473.09 1249.10 1475.75C1249.18 1478.43 1249.25 1481.10 1249.33 1483.76C1249.40 1486.43 1249.47 1489.10 1249.55 1491.77C1249.62 1494.44 1249.70 1497.11 1249.77 1499.78C1249.85 1502.45 1249.92 1505.12 1250.00 1507.79C1250.08 1510.46 1250.15 1513.13 1250.23 1515.80C1250.30 1518.47 1250.38 1521.14 1250.46 1523.81C1250.53 1526.48 1250.61 1529.15 1250.69 1531.82C1250.76 1534.49 1250.84 1537.16 1250.92 1539.82C1251.00 1542.50 1251.08 1545.17 1251.16 1547.83C1251.24 1550.51 1251.31 1553.18 1251.39 1555.84C1251.47 1558.51 1251.56 1561.18 1251.64 1563.85C1251.72 1566.52 1251.80 1569.19 1251.88 1571.86C1251.96 1574.53 1252.05 1577.20 1252.13 1579.87C1252.22 1582.54 1252.30 1585.21 1252.38 1587.88C1252.47 1590.55 1252.56 1593.22 1252.64 1595.88C1252.73 1598.56 1252.82 1601.23 1252.91 1603.89C1252.99 1606.56 1253.08 1609.23 1253.17 1611.90C1253.26 1614.57 1253.35 1617.24 1253.45 1619.91C1253.54 1622.57 1253.63 1625.23 1253.72 1627.91C1253.82 1630.56 1253.91 1633.22 1254.00 1635.92C1254.09 1638.55 1254.19 1641.21 1254.28 1643.93C1254.37 1646.55 1254.45 1649.21 1254.54 1651.94C1254.63 1654.54 1254.71 1657.21 1254.80 1659.94C1254.88 1662.55 1254.96 1665.21 1255.05 1667.95C1255.12 1670.55 1255.20 1673.22 1255.28 1675.96C1255.35 1678.56 1255.43 1681.23 1255.50 1683.97C1255.57 1686.61 1255.64 1689.30 1255.71 1691.98C1255.78 1694.69 1255.86 1697.38 1255.93 1699.99C1256.01 1702.79 1256.08 1705.49 1256.16 1708.00C1256.25 1710.98 1256.34 1713.70 1256.43 1716.01C1256.65 1721.39 1256.86 1724.51 1257.07 1723.65C1257.24 1722.97 1257.41 1720.00 1257.58 1715.66C1257.67 1713.34 1257.76 1710.62 1257.85 1707.65C1257.93 1705.14 1258.00 1702.44 1258.08 1699.64C1258.16 1697.03 1258.23 1694.34 1258.30 1691.63C1258.38 1688.96 1258.45 1686.26 1258.52 1683.63C1258.60 1680.89 1258.68 1678.22 1258.75 1675.62C1258.84 1672.88 1258.92 1670.21 1259.00 1667.61C1259.09 1664.87 1259.18 1662.21 1259.26 1659.60C1259.36 1656.87 1259.45 1654.20 1259.54 1651.59C1259.64 1648.87 1259.73 1646.21 1259.83 1643.59C1259.93 1640.87 1260.03 1638.21 1260.13 1635.58C1260.23 1632.88 1260.33 1630.22 1260.43 1627.57C1260.53 1624.89 1260.63 1622.23 1260.73 1619.57C1260.83 1616.90 1260.93 1614.23 1261.03 1611.56C1261.13 1608.89 1261.23 1606.23 1261.32 1603.55C1261.42 1600.89 1261.52 1598.22 1261.61 1595.55C1261.70 1592.88 1261.80 1590.21 1261.89 1587.54C1261.98 1584.87 1262.07 1582.20 1262.17 1579.53C1262.26 1576.87 1262.35 1574.20 1262.44 1571.52C1262.53 1568.86 1262.61 1566.19 1262.70 1563.52C1262.79 1560.85 1262.88 1558.18 1262.97 1555.51C1263.05 1552.84 1263.14 1550.17 1263.22 1547.50C1263.31 1544.83 1263.40 1542.16 1263.48 1539.49C1263.57 1536.83 1263.65 1534.16 1263.73 1531.48C1263.82 1528.82 1263.90 1526.15 1263.98 1523.48C1264.07 1520.81 1264.15 1518.14 1264.23 1515.47C1264.32 1512.80 1264.40 1510.13 1264.48 1507.46C1264.56 1504.79 1264.64 1502.12 1264.73 1499.45C1264.81 1496.78 1264.89 1494.11 1264.97 1491.44C1265.05 1488.78 1265.13 1486.11 1265.21 1483.44C1265.30 1480.77 1265.38 1478.10 1265.46 1475.43C1265.54 1472.76 1265.62 1470.09 1265.70 1467.42C1265.78 1464.75 1265.87 1462.08 1265.95 1459.41C1266.03 1456.74 1266.11 1454.07 1266.19 1451.40C1266.27 1448.73 1266.36 1446.06 1266.44 1443.39C1266.52 1440.73 1266.60 1438.06 1266.69 1435.38C1266.77 1432.72 1266.85 1430.05 1266.93 1427.38C1267.02 1424.71 1267.10 1422.04 1267.19 1419.37C1267.27 1416.70 1267.35 1414.03 1267.44 1411.36C1267.52 1408.69 1267.61 1406.02 1267.70 1403.35C1267.78 1400.68 1267.87 1398.01 1267.96 1395.34C1268.04 1392.68 1268.13 1390.01 1268.22 1387.34C1268.31 1384.67 1268.40 1382.00 1268.49 1379.33C1268.58 1376.66 1268.67 1373.99 1268.76 1371.32C1268.85 1368.65 1268.94 1365.98 1269.03 1363.31C1269.12 1360.65 1269.22 1357.98 1269.31 1355.31C1269.41 1352.64 1269.50 1349.97 1269.60 1347.30C1269.69 1344.63 1269.79 1341.96 1269.89 1339.29C1269.99 1336.62 1270.08 1333.96 1270.18 1331.29C1270.28 1328.62 1270.38 1325.95 1270.49 1323.28C1270.59 1320.61 1270.69 1317.94 1270.79 1315.27C1270.90 1312.61 1271.00 1309.94 1271.11 1307.27C1271.22 1304.60 1271.32 1301.93 1271.43 1299.26C1271.54 1296.59 1271.65 1293.93 1271.76 1291.26C1271.87 1288.59 1271.99 1285.92 1272.10 1283.25C1272.21 1280.58 1272.33 1277.92 1272.45 1275.25C1272.56 1272.58 1272.68 1269.91 1272.80 1267.24C1272.92 1264.57 1273.04 1261.91 1273.16 1259.24C1273.28 1256.57 1273.41 1253.90 1273.53 1251.24C1273.66 1248.57 1273.79 1245.90 1273.92 1243.23C1274.05 1240.56 1274.18 1237.90 1274.31 1235.23C1274.44 1232.56 1274.57 1229.89 1274.71 1227.23C1274.85 1224.56 1274.98 1221.89 1275.12 1219.23C1275.26 1216.56 1275.40 1213.89 1275.55 1211.23C1275.69 1208.56 1275.83 1205.89 1275.98 1203.23C1276.13 1200.56 1276.27 1197.89 1276.42 1195.23C1276.58 1192.56 1276.73 1189.89 1276.88 1187.23C1277.04 1184.56 1277.19 1181.89 1277.35 1179.23C1277.51 1176.56 1277.67 1173.90 1277.83 1171.23C1277.99 1168.56 1278.16 1165.90 1278.32 1163.23C1278.49 1160.57 1278.66 1157.90 1278.83 1155.24C1279.00 1152.57 1279.17 1149.91 1279.35 1147.24C1279.52 1144.58 1279.70 1141.91 1279.88 1139.25C1280.05 1136.58 1280.24 1133.92 1280.42 1131.25C1280.60 1128.59 1280.79 1125.93 1280.98 1123.26C1281.16 1120.60 1281.35 1117.93 1281.55 1115.27C1281.74 1112.61 1281.93 1109.94 1282.13 1107.28C1282.33 1104.62 1282.53 1101.95 1282.73 1099.29C1282.93 1096.63 1283.13 1093.96 1283.34 1091.30C1283.55 1088.64 1283.75 1085.97 1283.96 1083.31C1284.18 1080.65 1284.39 1077.99 1284.61 1075.33C1284.82 1072.66 1285.04 1070.00 1285.26 1067.34C1285.48 1064.68 1285.70 1062.02 1285.93 1059.36C1286.16 1056.70 1286.38 1054.03 1286.62 1051.37C1286.85 1048.71 1287.08 1046.05 1287.32 1043.39C1287.55 1040.73 1287.79 1038.07 1288.03 1035.41C1288.27 1032.75 1288.52 1030.09 1288.76 1027.43C1289.01 1024.77 1289.26 1022.12 1289.51 1019.46C1289.76 1016.80 1290.02 1014.14 1290.27 1011.48C1290.53 1008.82 1290.79 1006.17 1291.05 1003.51C1291.31 1000.85 1291.58 998.19 1291.85 995.53C1292.12 992.88 1292.39 990.22 1292.66 987.56C1292.93 984.91 1293.21 982.25 1293.49 979.59C1293.77 976.94 1294.05 974.28 1294.33 971.63C1294.62 968.97 1294.91 966.32 1295.20 963.66C1295.49 961.01 1295.78 958.35 1296.07 955.70C1296.37 953.04 1296.67 950.39 1296.97 947.74C1297.28 945.08 1297.59 942.43 1297.90 939.78C1298.21 937.13 1298.53 934.47 1298.86 931.82C1299.18 929.17 1299.51 926.52 1299.85 923.87C1300.19 921.22 1300.53 918.57 1300.89 915.93C1301.24 913.28 1301.60 910.63 1301.97 907.99C1302.34 905.34 1302.72 902.70 1303.11 900.06C1303.50 897.42 1303.90 894.77 1304.31 892.14C1304.71 889.50 1305.14 886.86 1305.57 884.22C1306.00 881.59 1306.44 878.95 1306.90 876.32C1307.36 873.69 1307.83 871.06 1308.31 868.44C1308.79 865.81 1309.29 863.18 1309.80 860.56C1310.31 857.94 1310.84 855.32 1311.38 852.71C1311.92 850.09 1312.48 847.48 1313.05 844.87C1313.62 842.26 1314.21 839.66 1314.82 837.06C1315.43 834.46 1316.06 831.86 1316.70 829.27C1317.34 826.68 1318.01 824.09 1318.69 821.51C1319.37 818.92 1320.06 816.34 1320.82 813.79C1321.58 811.22 1322.42 808.68 1323.43 806.21C1324.43 803.75 1325.60 801.35 1327.03 799.07C1328.41 796.85 1330.02 794.74 1331.96 792.77C1333.81 790.88 1335.97 789.07 1338.26 787.88C1340.79 786.57 1343.46 786.18 1346.00 786.95C1348.42 787.68 1350.74 789.27 1352.75 791.14C1354.76 793.00 1356.43 795.08 1357.85 797.29C1359.30 799.54 1360.48 801.93 1361.51 804.40C1362.53 806.86 1363.40 809.40 1364.20 811.95C1365.01 814.51 1365.76 817.08 1366.55 819.61C1367.35 822.18 1368.19 824.71 1369.03 827.23C1369.88 829.76 1370.75 832.28 1371.61 834.81C1372.46 837.33 1373.30 839.86 1374.11 842.42C1374.92 844.95 1375.70 847.51 1376.46 850.09C1377.21 852.64 1377.94 855.21 1378.65 857.79C1379.36 860.36 1380.05 862.95 1380.73 865.53C1381.40 868.12 1382.06 870.71 1382.70 873.29C1383.35 875.90 1383.98 878.50 1384.60 881.08C1385.23 883.70 1385.84 886.30 1386.44 888.88C1387.05 891.51 1387.65 894.12 1388.24 896.68C1388.84 899.33 1389.42 901.91 1390.02 904.50C1390.61 907.03 1391.23 909.59 1391.94 912.27C1392.59 914.71 1393.31 917.25 1394.17 919.97C1394.92 922.36 1395.78 924.94 1396.74 927.56C1397.66 930.06 1398.65 932.60 1399.71 935.00C1400.86 937.61 1402.08 940.06 1403.34 942.13C1405.07 944.98 1406.86 947.12 1408.64 948.02C1410.92 949.19 1413.18 947.97 1415.29 945.10C1416.63 943.28 1417.92 940.84 1419.12 938.08C1420.14 935.75 1421.10 933.20 1421.98 930.60C1422.85 928.04 1423.65 925.43 1424.36 922.95C1425.15 920.22 1425.82 917.65 1426.42 915.21C1427.09 912.49 1427.66 909.91 1428.18 907.39C1428.74 904.73 1429.23 902.14 1429.72 899.53C1430.22 896.92 1430.70 894.29 1431.18 891.65C1431.65 889.03 1432.12 886.40 1432.58 883.76C1433.04 881.14 1433.49 878.51 1433.94 875.86C1434.38 873.24 1434.82 870.61 1435.26 867.96C1435.69 865.33 1436.12 862.70 1436.55 860.06C1436.98 857.42 1437.40 854.79 1437.82 852.14C1438.24 849.51 1438.66 846.87 1439.08 844.23C1439.49 841.60 1439.91 838.96 1440.32 836.32C1440.74 833.68 1441.15 831.04 1441.57 828.40C1441.98 825.76 1442.40 823.12 1442.81 820.49C1443.23 817.85 1443.65 815.21 1444.07 812.57C1444.49 809.93 1444.91 807.29 1445.34 804.66C1445.77 802.02 1446.20 799.39 1446.63 796.76C1447.07 794.12 1447.50 791.48 1447.94 788.85C1448.39 786.22 1448.83 783.58 1449.28 780.95C1449.73 778.32 1450.18 775.69 1450.63 773.06C1451.09 770.42 1451.55 767.79 1452.01 765.16C1452.46 762.53 1452.93 759.90 1453.39 757.27C1453.85 754.64 1454.32 752.01 1454.79 749.38C1455.26 746.75 1455.73 744.12 1456.20 741.49C1456.67 738.87 1457.15 736.24 1457.63 733.61C1458.11 730.99 1458.60 728.36 1459.09 725.73C1459.58 723.11 1460.08 720.49 1460.59 717.86C1461.10 715.24 1461.61 712.62 1462.14 710.00C1462.66 707.38 1463.19 704.76 1463.73 702.15C1464.28 699.53 1464.83 696.92 1465.39 694.31C1465.96 691.70 1466.53 689.09 1467.12 686.49C1467.71 683.88 1468.31 681.28 1468.93 678.68C1469.55 676.08 1470.18 673.49 1470.82 670.90C1471.47 668.30 1472.13 665.72 1472.81 663.13C1473.49 660.55 1474.18 657.97 1474.90 655.40C1475.61 652.83 1476.35 650.26 1477.10 647.70C1477.85 645.13 1478.62 642.58 1479.42 640.03C1480.21 637.48 1481.02 634.93 1481.86 632.40C1482.71 629.86 1483.58 627.34 1484.50 624.83C1485.42 622.32 1486.38 619.83 1487.40 617.37C1488.43 614.90 1489.51 612.46 1490.67 610.05C1491.83 607.65 1493.07 605.28 1494.39 602.95C1495.70 600.64 1497.10 598.37 1498.61 596.14C1500.09 593.95 1501.67 591.80 1503.37 589.71C1505.03 587.66 1506.80 585.66 1508.69 583.72C1510.59 581.77 1512.61 579.81 1514.77 578.53C1517.17 577.10 1519.76 576.70 1522.43 577.60C1524.79 578.40 1527.16 579.99 1529.30 581.66C1531.47 583.36 1533.42 585.17 1535.19 587.08C1537.03 589.07 1538.68 591.16 1540.19 593.33C1541.72 595.53 1543.10 597.81 1544.40 600.15C1545.68 602.47 1546.89 604.86 1548.04 607.28C1549.19 609.68 1550.28 612.12 1551.34 614.58C1552.38 617.03 1553.39 619.51 1554.36 622.00C1555.32 624.49 1556.26 627.00 1557.16 629.51C1558.07 632.03 1558.95 634.55 1559.81 637.07C1560.67 639.62 1561.52 642.15 1562.35 644.67C1563.19 647.22 1564.02 649.76 1564.83 652.29C1565.65 654.83 1566.47 657.37 1567.27 659.92C1568.07 662.46 1568.87 665.01 1569.66 667.57C1570.45 670.10 1571.23 672.65 1572.02 675.23C1572.79 677.75 1573.56 680.30 1574.34 682.89C1575.10 685.42 1575.87 687.98 1576.65 690.57C1577.41 693.12 1578.18 695.69 1578.94 698.24C1579.71 700.84 1580.47 703.42 1581.22 705.92C1582.01 708.58 1582.77 711.14 1583.50 713.60C1584.29 716.23 1585.05 718.76 1585.83 721.27C1586.62 723.80 1587.42 726.31 1588.29 728.89C1589.11 731.33 1589.98 733.82 1590.95 736.45C1591.82 738.82 1592.77 741.30 1593.81 743.93C1594.74 746.27 1595.75 748.74 1596.85 751.35C1597.93 753.91 1599.10 756.52 1600.31 758.57C1602.26 761.85 1604.34 763.38 1606.37 761.65C1607.86 760.40 1609.32 757.82 1610.66 754.95C1611.80 752.50 1612.85 749.90 1613.78 747.57C1614.85 744.88 1615.78 742.41 1616.60 740.07C1617.53 737.43 1618.32 734.93 1619.03 732.43C1619.75 729.90 1620.40 727.34 1621.01 724.67C1621.59 722.12 1622.15 719.50 1622.68 716.84C1623.20 714.24 1623.71 711.61 1624.22 708.97C1624.72 706.35 1625.23 703.73 1625.75 701.11C1626.28 698.49 1626.81 695.87 1627.35 693.26C1627.90 690.64 1628.45 688.03 1629.01 685.42C1629.58 682.81 1630.15 680.20 1630.73 677.59C1631.31 674.99 1631.90 672.38 1632.49 669.78C1633.09 667.17 1633.69 664.57 1634.30 661.97C1634.91 659.37 1635.52 656.77 1636.14 654.18C1636.76 651.58 1637.39 648.98 1638.02 646.39C1638.65 643.79 1639.28 641.20 1639.92 638.60C1640.56 636.01 1641.20 633.42 1641.84 630.82C1642.48 628.23 1643.13 625.64 1643.77 623.05C1644.42 620.46 1645.07 617.87 1645.72 615.28C1646.37 612.69 1647.01 610.10 1647.66 607.50C1648.31 604.91 1648.96 602.32 1649.60 599.73C1650.25 597.14 1650.89 594.55 1651.53 591.95C1652.17 589.36 1652.81 586.77 1653.45 584.17C1654.08 581.58 1654.72 578.99 1655.35 576.39C1655.99 573.80 1656.63 571.21 1657.27 568.61C1657.90 566.02 1658.55 563.43 1659.19 560.83C1659.84 558.24 1660.49 555.65 1661.15 553.07C1661.81 550.48 1662.47 547.89 1663.15 545.31C1663.82 542.72 1664.51 540.14 1665.20 537.56C1665.89 534.98 1666.60 532.41 1667.32 529.83C1668.03 527.26 1668.76 524.69 1669.51 522.13C1670.25 519.56 1671.01 517.00 1671.79 514.45C1672.57 511.89 1673.36 509.34 1674.17 506.80C1674.99 504.25 1675.82 501.72 1676.67 499.18C1677.52 496.65 1678.40 494.13 1679.29 491.61C1680.19 489.10 1681.10 486.59 1682.05 484.09C1682.99 481.59 1683.96 479.10 1684.95 476.62C1685.94 474.14 1686.97 471.67 1688.04 469.23C1689.13 466.79 1690.27 464.37 1691.49 462.00C1692.72 459.63 1694.03 457.30 1695.46 455.05C1696.89 452.80 1698.43 450.62 1700.11 448.52C1701.77 446.47 1703.56 444.49 1705.52 442.62C1707.41 440.81 1709.47 439.08 1711.68 437.51C1713.89 435.95 1716.24 434.57 1718.64 433.58C1721.20 432.53 1723.83 431.91 1726.43 431.95C1729.05 431.99 1731.65 432.71 1734.16 433.85C1736.55 434.93 1738.86 436.38 1741.02 437.95C1743.21 439.55 1745.24 441.27 1747.15 443.11C1749.08 444.97 1750.88 446.94 1752.57 449.00C1754.26 451.06 1755.84 453.22 1757.33 455.44C1758.82 457.65 1760.22 459.93 1761.54 462.25C1762.87 464.57 1764.13 466.93 1765.34 469.31C1766.55 471.69 1767.72 474.09 1768.85 476.51C1769.98 478.93 1771.07 481.37 1772.13 483.82C1773.19 486.27 1774.21 488.74 1775.21 491.22C1776.20 493.69 1777.17 496.18 1778.11 498.68C1779.05 501.18 1779.96 503.69 1780.86 506.21C1781.75 508.73 1782.62 511.25 1783.48 513.78C1784.34 516.31 1785.18 518.85 1786.01 521.38C1786.83 523.92 1787.65 526.47 1788.45 529.02C1789.25 531.56 1790.04 534.11 1790.82 536.67C1791.60 539.22 1792.37 541.78 1793.13 544.34C1793.89 546.90 1794.65 549.46 1795.39 552.03C1796.14 554.59 1796.88 557.15 1797.62 559.72C1798.36 562.29 1799.09 564.86 1799.83 567.42C1800.56 569.99 1801.29 572.56 1802.02 575.13C1802.75 577.70 1803.48 580.27 1804.21 582.84C1804.94 585.41 1805.67 587.97 1806.41 590.54C1807.15 593.11 1807.89 595.67 1808.64 598.24C1809.39 600.80 1810.14 603.36 1810.90 605.92C1811.66 608.48 1812.43 611.04 1813.21 613.60C1813.99 616.15 1814.78 618.70 1815.58 621.25C1816.38 623.80 1817.20 626.34 1818.02 628.88C1818.85 631.42 1819.69 633.95 1820.54 636.48C1821.40 639.01 1822.27 641.54 1823.16 644.06C1824.05 646.58 1824.95 649.09 1825.89 651.59C1826.82 654.10 1827.80 656.59 1828.84 659.04C1829.89 661.50 1831.02 663.92 1832.26 666.28C1833.50 668.64 1834.85 670.94 1836.36 673.16C1837.84 675.35 1839.47 677.46 1841.29 679.47C1843.06 681.42 1845.02 683.39 1847.14 684.93C1849.51 686.66 1852.05 687.52 1854.61 686.84C1856.94 686.21 1859.29 684.61 1861.56 682.94C1863.75 681.33 1865.86 679.70 1867.94 678.09C1870.09 676.43 1872.20 674.79 1874.31 673.24C1876.50 671.64 1878.69 670.13 1880.95 668.76C1883.24 667.38 1885.60 666.14 1888.08 665.12C1890.50 664.11 1893.06 663.35 1895.72 662.72C1898.28 662.11 1900.93 661.62 1903.56 661.11C1906.21 660.60 1908.84 660.07 1911.39 659.40C1914.02 658.69 1916.54 657.81 1918.91 656.67C1921.33 655.50 1923.59 654.09 1925.72 652.47C1927.83 650.87 1929.81 649.06 1931.65 647.10C1933.47 645.18 1935.15 643.10 1936.72 640.91C1938.27 638.75 1939.70 636.49 1941.03 634.15C1942.35 631.83 1943.56 629.44 1944.68 627.02C1945.81 624.58 1946.84 622.11 1947.78 619.64C1948.74 617.13 1949.62 614.62 1950.45 612.09C1951.28 609.55 1952.07 607.01 1952.84 604.44C1953.60 601.90 1954.35 599.34 1955.12 596.76C1955.88 594.23 1956.66 591.68 1957.48 589.10C1958.32 586.49 1959.12 583.72 1960.61 581.77C1962.11 579.80 1965.02 579.09 1967.30 577.49C1969.63 575.86 1969.42 572.91 1969.56 570.15C1969.70 567.47 1969.90 564.81 1970.13 562.16C1970.36 559.49 1970.64 556.84 1970.94 554.19C1971.24 551.53 1971.57 548.89 1971.92 546.24C1972.27 543.59 1972.64 540.95 1973.02 538.30C1973.40 535.66 1973.80 533.02 1974.21 530.38C1974.62 527.74 1975.05 525.11 1975.49 522.47C1975.93 519.84 1976.38 517.21 1976.85 514.58C1977.32 511.95 1977.81 509.32 1978.31 506.70C1978.81 504.07 1979.32 501.45 1979.84 498.83C1980.37 496.22 1980.91 493.60 1981.46 490.99C1982.01 488.37 1982.57 485.76 1983.15 483.15C1983.72 480.55 1984.31 477.94 1984.91 475.34C1985.51 472.74 1986.12 470.14 1986.74 467.54C1987.37 464.94 1988.00 462.35 1988.65 459.76C1989.29 457.17 1989.95 454.58 1990.61 451.99C1991.28 449.40 1991.95 446.82 1992.64 444.24C1993.32 441.66 1994.02 439.08 1994.72 436.50C1995.43 433.93 1996.14 431.35 1996.87 428.78C1997.59 426.21 1998.32 423.64 1999.06 421.08C1999.80 418.51 2000.55 415.95 2001.30 413.38C2002.06 410.82 2002.82 408.26 2003.59 405.71C2004.36 403.15 2005.14 400.60 2005.93 398.04C2006.71 395.49 2007.50 392.94 2008.30 390.39C2009.10 387.84 2009.91 385.30 2010.72 382.75C2011.53 380.21 2012.34 377.66 2013.17 375.12C2013.99 372.58 2014.82 370.04 2015.65 367.50C2016.48 364.97 2017.32 362.43 2018.16 359.90C2019.00 357.36 2019.85 354.83 2020.70 352.30C2021.55 349.77 2022.41 347.24 2023.27 344.71C2024.12 342.18 2024.99 339.65 2025.85 337.12C2026.72 334.60 2027.58 332.07 2028.46 329.55C2029.33 327.02 2030.22 324.50 2031.13 321.99C2032.04 319.48 2032.97 316.97 2033.94 314.49C2034.92 312.00 2035.94 309.53 2037.00 307.09C2038.07 304.63 2039.20 302.21 2040.39 299.83C2041.58 297.43 2042.85 295.08 2044.19 292.77C2045.54 290.47 2046.96 288.21 2048.49 286.02C2050.01 283.83 2051.62 281.70 2053.34 279.64C2055.04 277.61 2056.85 275.65 2058.77 273.76C2060.66 271.92 2062.66 270.14 2064.78 268.46C2066.86 266.80 2069.06 265.25 2071.33 263.85C2073.62 262.44 2075.99 261.18 2078.41 260.13C2080.90 259.06 2083.44 258.20 2086.01 257.61C2088.63 257.02 2091.29 256.70 2093.95 256.73C2096.61 256.75 2099.26 257.10 2101.89 257.71C2104.46 258.32 2107.00 259.18 2109.48 260.25C2111.91 261.30 2114.28 262.56 2116.57 263.97C2118.84 265.37 2121.03 266.93 2123.10 268.60C2125.20 270.29 2127.17 272.09 2129.03 273.98C2130.91 275.90 2132.67 277.90 2134.35 279.97C2136.03 282.05 2137.61 284.20 2139.12 286.40C2140.63 288.60 2142.07 290.85 2143.46 293.13C2144.85 295.41 2146.19 297.73 2147.50 300.05C2148.82 302.38 2150.10 304.72 2151.36 307.07C2152.62 309.43 2153.86 311.80 2155.07 314.18C2156.28 316.56 2157.47 318.95 2158.63 321.35C2159.79 323.76 2160.93 326.17 2162.05 328.60C2163.16 331.03 2164.25 333.46 2165.32 335.91C2166.39 338.36 2167.44 340.82 2168.46 343.28C2169.49 345.75 2170.49 348.22 2171.47 350.71C2172.45 353.19 2173.41 355.68 2174.35 358.19C2175.29 360.68 2176.21 363.19 2177.11 365.71C2178.00 368.22 2178.88 370.74 2179.74 373.27C2180.60 375.80 2181.44 378.34 2182.27 380.88C2183.09 383.42 2183.89 385.97 2184.68 388.52C2185.47 391.07 2186.24 393.63 2186.99 396.19C2187.74 398.75 2188.48 401.32 2189.20 403.89C2189.92 406.46 2190.63 409.04 2191.32 411.62C2192.01 414.20 2192.69 416.78 2193.35 419.37C2194.01 421.95 2194.66 424.54 2195.30 427.14C2195.94 429.73 2196.56 432.33 2197.17 434.93C2197.78 437.53 2198.38 440.13 2198.97 442.74C2199.56 445.34 2200.14 447.95 2200.70 450.56C2201.27 453.17 2201.83 455.78 2202.38 458.40C2202.93 461.01 2203.46 463.62 2204.00 466.24C2204.53 468.86 2205.05 471.48 2205.56 474.10C2206.08 476.72 2206.58 479.34 2207.08 481.97C2207.59 484.59 2208.08 487.21 2208.57 489.84C2209.06 492.46 2209.54 495.09 2210.02 497.72C2210.49 500.35 2210.97 502.98 2211.44 505.60C2211.91 508.23 2212.37 510.86 2212.83 513.49C2213.29 516.13 2213.75 518.76 2214.21 521.39C2214.67 524.02 2215.12 526.65 2215.57 529.28C2216.03 531.92 2216.48 534.55 2216.93 537.18C2217.38 539.81 2217.83 542.44 2218.28 545.08C2218.74 547.71 2219.19 550.34 2219.64 552.97C2220.10 555.60 2220.55 558.24 2221.01 560.87C2221.47 563.50 2221.93 566.13 2222.39 568.76C2222.86 571.39 2223.33 574.02 2223.80 576.65C2224.27 579.28 2224.75 581.90 2225.23 584.53C2225.72 587.16 2226.20 589.78 2226.70 592.41C2227.20 595.03 2227.70 597.65 2228.21 600.27C2228.72 602.90 2229.24 605.52 2229.77 608.13C2230.29 610.75 2230.83 613.37 2231.38 615.98C2231.92 618.60 2232.48 621.21 2233.05 623.82C2233.61 626.43 2234.19 629.04 2234.78 631.64C2235.37 634.24 2235.97 636.85 2236.59 639.45C2237.20 642.04 2237.83 644.64 2238.47 647.23C2239.12 649.82 2239.77 652.41 2240.44 655.00C2241.11 657.58 2241.80 660.16 2242.50 662.74C2243.20 665.32 2243.92 667.89 2244.65 670.46C2245.39 673.03 2246.14 675.59 2246.91 678.15C2247.67 680.70 2248.46 683.26 2249.26 685.81C2250.07 688.34 2250.83 690.88 2251.81 693.40C2252.73 695.77 2253.88 698.13 2255.55 700.46C2257.23 702.82 2259.48 705.22 2261.57 705.46C2263.80 705.72 2265.81 703.12 2267.32 700.47C2268.76 697.94 2269.71 695.52 2270.48 693.13C2271.31 690.58 2271.97 688.03 2272.68 685.43C2273.37 682.88 2274.06 680.29 2274.74 677.68C2275.41 675.11 2276.07 672.52 2276.73 669.92C2277.38 667.33 2278.02 664.73 2278.64 662.14C2279.28 659.54 2279.90 656.94 2280.51 654.35C2281.13 651.75 2281.75 649.15 2282.37 646.56C2282.99 643.96 2283.62 641.36 2284.26 638.77C2284.89 636.18 2285.54 633.59 2286.20 631.00C2286.86 628.41 2287.52 625.82 2288.19 623.24C2288.86 620.65 2289.53 618.07 2290.21 615.48C2290.88 612.90 2291.56 610.32 2292.23 607.73C2292.90 605.15 2293.57 602.56 2294.24 599.97C2294.90 597.39 2295.56 594.80 2296.21 592.21C2296.86 589.62 2297.51 587.03 2298.15 584.43C2298.79 581.84 2299.42 579.25 2300.06 576.65C2300.69 574.06 2301.33 571.47 2301.97 568.87C2302.61 566.28 2303.25 563.69 2303.90 561.10C2304.55 558.51 2305.20 555.92 2305.87 553.33C2306.53 550.74 2307.21 548.16 2307.90 545.58C2308.59 543.00 2309.29 540.42 2310.01 537.85C2310.73 535.28 2311.47 532.71 2312.22 530.15C2312.98 527.59 2313.76 525.03 2314.56 522.49" stroke="#505050" stroke-width="11.5"/>
<path d="M335.74 81.71C338.98 82.65 342.19 83.57 345.37 84.49C348.62 85.42 351.83 86.35 355.01 87.27C358.24 88.22 361.45 89.16 364.63 90.11C367.85 91.07 371.05 92.04 374.22 93.03C377.43 94.03 380.61 95.04 383.78 96.08C386.96 97.13 390.12 98.20 393.27 99.30C396.43 100.41 399.57 101.55 402.70 102.73C405.82 103.91 408.93 105.13 412.03 106.41C415.11 107.67 418.18 108.98 421.25 110.35C424.28 111.70 427.31 113.12 430.35 114.58C433.34 116.02 436.34 117.51 439.34 119.02C442.31 120.52 445.29 122.04 448.28 123.57C451.25 125.09 454.23 126.61 457.21 128.12C460.20 129.63 463.20 131.12 466.20 132.58C469.22 134.04 472.24 135.46 475.28 136.83C478.35 138.21 481.42 139.52 484.51 140.76C487.63 142.01 490.76 143.18 493.91 144.25C497.09 145.33 500.30 146.30 503.51 147.14C506.76 147.98 510.03 148.70 513.31 149.26C516.61 149.82 519.93 150.22 523.26 150.44C526.59 150.66 529.93 150.69 533.29 150.55C536.61 150.41 539.94 150.09 543.27 149.63C546.56 149.16 549.85 148.55 553.13 147.81C556.37 147.07 559.60 146.21 562.82 145.23C566.00 144.26 569.17 143.18 572.31 142.00C575.43 140.83 578.53 139.56 581.60 138.21C584.66 136.87 587.69 135.44 590.68 133.95C593.67 132.45 596.63 130.88 599.55 129.27C602.48 127.64 605.38 125.97 608.26 124.31C611.18 122.64 614.09 120.97 617.00 119.39C619.96 117.77 622.93 116.23 625.93 114.83C628.99 113.41 632.07 112.14 635.22 111.07C638.39 110.00 641.62 109.14 644.90 108.47C648.17 107.80 651.48 107.33 654.82 107.03C658.13 106.73 661.48 106.60 664.84 106.63C668.16 106.65 671.50 106.83 674.85 107.13C678.17 107.43 681.49 107.86 684.80 108.40C688.09 108.94 691.37 109.59 694.64 110.33C697.90 111.08 701.14 111.91 704.35 112.83C707.58 113.75 710.77 114.75 713.93 115.81C717.11 116.89 720.25 118.02 723.38 119.18C726.52 120.34 729.65 121.54 732.76 122.72C735.90 123.91 739.03 125.09 742.16 126.21C745.32 127.35 748.48 128.44 751.66 129.43C754.86 130.43 758.08 131.33 761.32 132.11C764.57 132.88 767.85 133.52 771.17 133.98C774.46 134.44 777.79 134.70 781.16 134.81C784.47 134.92 787.82 134.88 791.19 134.78C794.51 134.68 797.86 134.52 801.21 134.37C804.55 134.22 807.89 134.09 811.23 134.04C814.58 133.99 817.93 134.05 821.26 134.20C824.60 134.36 827.94 134.61 831.26 134.92C834.59 135.24 837.91 135.63 841.22 136.07C844.54 136.50 847.85 136.98 851.15 137.48C854.46 137.98 857.76 138.51 861.06 139.02C864.37 139.54 867.68 140.06 870.98 140.54C874.29 141.03 877.60 141.49 880.91 141.89C884.24 142.29 887.57 142.64 890.89 142.91C894.23 143.17 897.57 143.36 900.90 143.43C904.24 143.51 907.59 143.47 910.93 143.31C914.26 143.14 917.58 142.83 920.92 142.40C924.22 141.98 927.52 141.44 930.82 140.82C934.09 140.20 937.36 139.50 940.63 138.74C943.88 137.99 947.12 137.18 950.37 136.35C953.60 135.52 956.84 134.65 960.07 133.79C963.30 132.93 966.53 132.06 969.76 131.22C973.01 130.38 976.25 129.56 979.49 128.79C982.76 128.02 986.03 127.30 989.29 126.66C992.60 126.01 995.89 125.45 999.18 125.00C1002.52 124.55 1005.84 124.21 1009.16 124.02C1012.51 123.83 1015.85 123.79 1019.18 123.93C1022.52 124.08 1025.85 124.41 1029.16 124.94C1032.44 125.45 1035.71 126.15 1038.97 126.98C1042.19 127.80 1045.39 128.76 1048.59 129.82C1051.74 130.86 1054.89 132.00 1058.03 133.21C1061.13 134.41 1064.23 135.67 1067.33 136.96C1070.41 138.25 1073.48 139.57 1076.56 140.89C1079.63 142.21 1082.70 143.54 1085.78 144.84C1088.87 146.14 1091.96 147.42 1095.06 148.64C1098.19 149.87 1101.32 151.05 1104.46 152.13C1107.64 153.22 1110.84 154.22 1114.04 155.10C1117.29 155.98 1120.54 156.74 1123.81 157.32C1127.12 157.92 1130.43 158.34 1133.75 158.61C1137.08 158.89 1140.42 159.01 1143.77 159.01C1147.11 159.00 1150.45 158.87 1153.79 158.63C1157.11 158.38 1160.44 158.03 1163.77 157.59C1167.06 157.16 1170.37 156.63 1173.67 156.04C1176.95 155.45 1180.23 154.79 1183.51 154.09C1186.77 153.39 1190.03 152.64 1193.29 151.85C1196.53 151.07 1199.78 150.26 1203.02 149.43C1206.26 148.61 1209.50 147.77 1212.73 146.93C1215.97 146.09 1219.21 145.25 1222.45 144.44C1225.70 143.63 1228.95 142.84 1232.20 142.10C1235.47 141.36 1238.75 140.68 1242.02 140.07C1245.32 139.46 1248.62 138.92 1251.93 138.50C1255.25 138.08 1258.58 137.76 1261.91 137.58C1265.25 137.40 1268.59 137.36 1271.94 137.49C1275.26 137.62 1278.59 137.91 1281.92 138.39C1285.19 138.87 1288.46 139.53 1291.74 140.39C1294.93 141.24 1298.13 142.25 1301.33 143.32C1304.50 144.38 1307.67 145.48 1310.84 146.52C1314.04 147.56 1317.25 148.54 1320.46 149.32C1323.75 150.12 1327.03 150.72 1330.32 151.16C1333.65 151.60 1336.98 151.87 1340.31 152.00C1343.65 152.14 1346.99 152.14 1350.34 152.04C1353.67 151.94 1357.01 151.74 1360.35 151.47C1363.67 151.20 1367.00 150.87 1370.33 150.50C1373.65 150.14 1376.97 149.74 1380.29 149.34C1383.61 148.95 1386.93 148.55 1390.25 148.19C1393.58 147.82 1396.91 147.50 1400.24 147.24C1403.58 146.98 1406.92 146.78 1410.25 146.72C1413.61 146.65 1416.96 146.71 1420.28 146.95C1423.62 147.19 1426.93 147.62 1430.21 148.29C1433.46 148.95 1436.67 149.88 1439.84 151.03C1442.95 152.16 1446.03 153.49 1449.09 154.91C1452.10 156.32 1455.10 157.82 1458.09 159.33C1461.08 160.84 1464.07 162.36 1467.07 163.80C1470.11 165.25 1473.17 166.63 1476.25 167.83C1479.40 169.05 1482.58 170.07 1485.80 170.88C1489.05 171.70 1492.33 172.31 1495.65 172.76C1498.95 173.21 1502.28 173.50 1505.63 173.65C1508.96 173.80 1512.30 173.82 1515.66 173.75C1518.99 173.68 1522.33 173.52 1525.68 173.29C1529.00 173.07 1532.34 172.79 1535.67 172.48C1539.00 172.18 1542.33 171.84 1545.66 171.51C1548.99 171.18 1552.32 170.86 1555.64 170.57C1558.99 170.28 1562.33 170.03 1565.64 169.86C1569.01 169.67 1572.35 169.57 1575.67 169.57C1579.04 169.57 1582.38 169.69 1585.69 169.95C1589.04 170.22 1592.35 170.64 1595.63 171.24C1598.92 171.84 1602.17 172.61 1605.39 173.52C1608.59 174.43 1611.77 175.48 1614.92 176.64C1618.04 177.79 1621.13 179.06 1624.21 180.42C1627.24 181.77 1630.26 183.20 1633.28 184.70C1636.25 186.18 1639.21 187.73 1642.17 189.33C1645.10 190.91 1648.02 192.53 1650.95 194.18C1653.85 195.81 1656.76 197.47 1659.67 199.13C1662.57 200.78 1665.47 202.44 1668.39 204.09C1671.30 205.73 1674.22 207.36 1677.17 208.95C1680.12 210.54 1683.09 212.09 1686.07 213.56C1689.10 215.05 1692.14 216.45 1695.19 217.73C1698.31 219.04 1701.45 220.22 1704.59 221.22C1707.82 222.24 1711.06 223.09 1714.30 223.70C1717.62 224.32 1720.94 224.70 1724.26 224.79C1727.59 224.88 1730.92 224.65 1734.26 224.15C1737.52 223.66 1740.78 222.91 1744.04 221.98C1747.21 221.07 1750.39 220.00 1753.56 218.83C1756.67 217.68 1759.78 216.43 1762.89 215.16C1765.98 213.89 1769.07 212.60 1772.16 211.32C1775.25 210.04 1778.34 208.76 1781.43 207.49C1784.52 206.22 1787.62 204.96 1790.72 203.72C1793.84 202.49 1796.95 201.27 1800.07 200.10C1803.21 198.92 1806.36 197.77 1809.50 196.68C1812.67 195.58 1815.85 194.53 1819.03 193.55C1822.24 192.56 1825.45 191.64 1828.67 190.79C1831.92 189.94 1835.17 189.17 1838.43 188.50C1841.72 187.82 1845.01 187.24 1848.31 186.77C1851.63 186.30 1854.95 185.94 1858.28 185.71C1861.61 185.48 1864.95 185.37 1868.30 185.41C1871.63 185.45 1874.97 185.62 1878.32 185.95C1881.62 186.27 1884.93 186.75 1888.24 187.35C1891.51 187.94 1894.78 188.66 1898.05 189.46C1901.28 190.25 1904.51 191.13 1907.73 192.07C1910.93 193.00 1914.13 193.99 1917.32 195.02C1920.50 196.04 1923.68 197.10 1926.84 198.16C1930.03 199.22 1933.20 200.29 1936.35 201.34C1939.55 202.40 1942.74 203.44 1945.89 204.43C1949.15 205.44 1952.40 206.34 1955.42 207.56C1958.57 208.83 1961.45 210.45 1963.79 212.93C1966.00 215.28 1967.86 218.19 1969.91 220.87C1971.94 223.54 1974.03 226.14 1976.17 228.71C1978.31 231.28 1980.50 233.80 1982.71 236.31C1984.93 238.81 1987.17 241.29 1989.42 243.76C1991.68 246.23 1993.94 248.69 1996.19 251.16C1998.44 253.63 2000.69 256.11 2002.90 258.61C2005.12 261.11 2007.31 263.64 2009.46 266.21C2011.60 268.77 2013.69 271.38 2015.74 274.02C2017.79 276.66 2019.79 279.34 2021.77 282.03C2023.75 284.73 2025.71 287.44 2027.65 290.16C2029.60 292.88 2031.54 295.60 2033.48 298.32C2035.43 301.04 2037.38 303.76 2039.36 306.45C2041.34 309.15 2043.35 311.82 2045.39 314.46C2047.44 317.11 2049.53 319.71 2051.67 322.28C2053.81 324.85 2055.99 327.37 2058.23 329.87C2060.46 332.34 2062.74 334.78 2065.08 337.19C2067.40 339.56 2069.78 341.91 2072.23 344.22C2074.64 346.49 2077.11 348.73 2079.67 350.95C2082.19 353.14 2084.79 355.32 2087.48 357.23C2090.30 359.24 2093.21 360.95 2096.23 362.06C2099.40 363.23 2102.70 363.69 2106.09 363.27C2109.34 362.87 2112.60 361.74 2115.57 360.18C2118.51 358.64 2121.22 356.66 2123.77 354.44C2126.26 352.27 2128.60 349.86 2130.89 347.38C2133.16 344.91 2135.37 342.37 2137.60 339.92C2139.87 337.42 2142.16 334.99 2144.40 332.56C2146.68 330.09 2148.91 327.61 2151.06 325.06C2153.21 322.50 2155.29 319.88 2157.32 317.22C2159.34 314.56 2161.30 311.86 2163.24 309.13C2165.16 306.40 2167.05 303.64 2168.91 300.86C2170.78 298.09 2172.62 295.30 2174.46 292.50C2176.29 289.71 2178.13 286.91 2179.97 284.12C2181.81 281.33 2183.67 278.55 2185.56 275.79C2187.44 273.03 2189.36 270.29 2191.32 267.59C2193.28 264.88 2195.29 262.20 2197.36 259.58C2199.42 256.95 2201.55 254.38 2203.76 251.86C2205.96 249.35 2208.24 246.91 2210.61 244.53C2212.95 242.18 2215.40 239.90 2217.94 237.70C2220.46 235.53 2223.09 233.44 2225.80 231.47C2228.53 229.50 2231.34 227.66 2234.21 226.02C2237.17 224.32 2240.18 222.84 2243.22 221.64C2246.41 220.37 2249.63 219.41 2252.84 218.85C2256.20 218.25 2259.54 218.08 2262.83 218.43C2266.10 218.78 2269.32 219.64 2272.44 221.11C2275.31 222.46 2278.07 224.37 2280.76 226.66C2283.21 228.77 2285.60 231.17 2287.93 233.67C2290.21 236.12 2292.44 238.67 2294.63 241.13C2296.97 243.74 2299.26 246.25 2301.51 248.42C2304.12 250.93 2306.71 252.86 2308.91 255.19C2311.04 257.46 2312.68 260.27 2313.98 263.76C2315.03 266.60 2315.89 269.83 2316.72 273.40" stroke="#EF3E42" stroke-width="11.5"/>
<g stroke="#1A6EDE" stroke-width="11.6" stroke-linecap="round"><line x1="337.8" y1="236.8" x2="387.2" y2="236.8"/><line x1="458.7" y1="236.8" x2="508.1" y2="236.8"/><line x1="576.2" y1="236.8" x2="625.6" y2="236.8"/><line x1="695.4" y1="236.8" x2="744.8" y2="236.8"/><line x1="813.4" y1="236.8" x2="862.8" y2="236.8"/><line x1="932.5" y1="236.8" x2="981.9" y2="236.8"/><line x1="1050.6" y1="236.8" x2="1100.0" y2="236.8"/><line x1="1169.6" y1="236.8" x2="1219.0" y2="236.8"/><line x1="1260.5" y1="236.8" x2="1309.9" y2="236.8"/><line x1="1379.5" y1="236.8" x2="1428.9" y2="236.8"/><line x1="1497.6" y1="236.8" x2="1547.0" y2="236.8"/><line x1="1616.7" y1="236.8" x2="1666.1" y2="236.8"/><line x1="1734.8" y1="236.8" x2="1784.2" y2="236.8"/><line x1="1853.6" y1="236.8" x2="1903.0" y2="236.8"/><line x1="1971.8" y1="236.8" x2="2021.2" y2="236.8"/><line x1="2090.8" y1="236.8" x2="2140.2" y2="236.8"/><line x1="2181.8" y1="236.8" x2="2231.2" y2="236.8"/><line x1="2300.8" y1="236.8" x2="2350.2" y2="236.8"/></g>
</g>
<g class="tl" text-anchor="end"><text x="284" y="95.1">0</text><text x="284" y="413.6">-6</text><text x="284" y="732.1">-12</text><text x="284" y="1050.6">-18</text><text x="284" y="1369.1">-24</text><text x="284" y="1687.6">-30</text></g>
<g class="tl" text-anchor="middle"><text x="338.0" y="1777">0</text><text x="667.4" y="1777">25</text><text x="996.9" y="1777">50</text><text x="1326.3" y="1777">75</text><text x="1655.7" y="1777">100</text><text x="1985.2" y="1777">125</text><text x="2314.6" y="1777">150</text></g>
<text class="ti" transform="translate(1080.0,1951)" x="-4.7 51.5 90.6 144.2 186.6 229.0 263.7 334.7 403.8 455.5" y="0">Freq (GHz)</text>
<text class="ti" transform="translate(119.2,1160.0) rotate(-90) scale(0.93,1)" x="-6.0 56.3 112.4 174.6 200.2 265.3 318.1 366.1 414.2 449.8 509.4 582.7" y="0">S11,S21 (dB)</text>
<rect x="1318" y="1443.8" width="983.6" height="209.4" fill="none" stroke="#000" stroke-width="2"/>
<line x1="1328.8" y1="1497.9" x2="1511.4" y2="1497.9" stroke="#505050" stroke-width="12" stroke-linecap="round"/>
<line x1="1328.8" y1="1599" x2="1511.4" y2="1599" stroke="#EF3E42" stroke-width="12" stroke-linecap="round"/>
<text class="lg" transform="translate(1530.0,1525.7) scale(0.93,1)" x="-7.4 41.4 81.0 128.0 176.2 217.3 238.9 266.0 310.3 330.8 378.1 426.5 450.6 474.6 519.4 538.9 581.7 623.8 651.7 680.4 728.6 775.7" y="0">S11_straight electrode</text>
<text class="lg" transform="translate(1530.0,1626.5) scale(0.93,1)" x="-8.5 42.3 81.9 128.8 177.1 218.2 239.7 266.8 311.1 330.8 378.1 426.5 450.6 474.6 519.4 538.9 581.7 623.8 651.7 680.4 728.6 775.7" y="0">S21_straight electrode</text>
</svg>
</body></html>
